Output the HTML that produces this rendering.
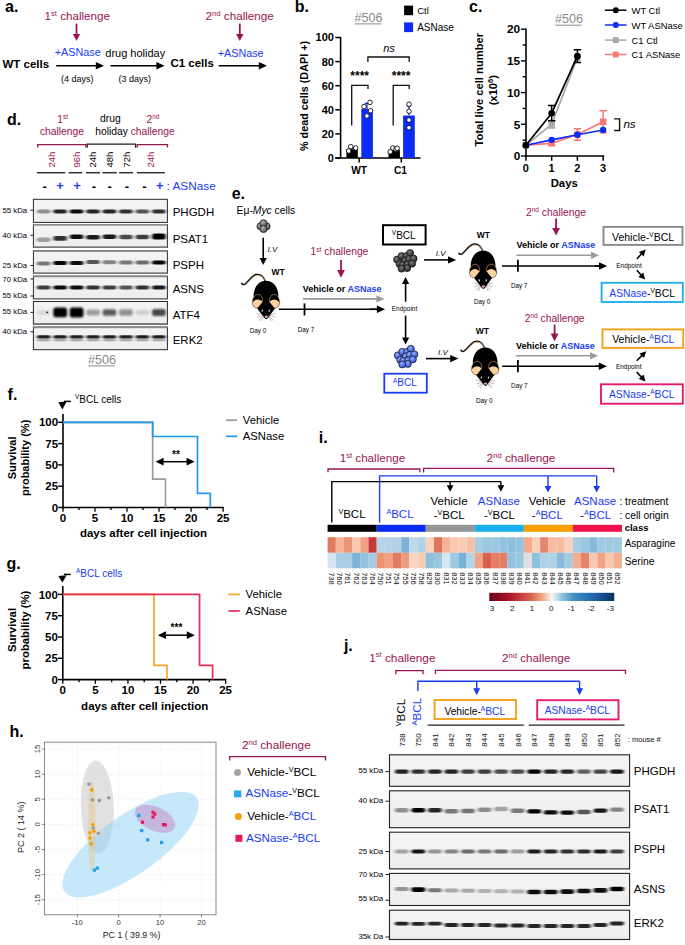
<!DOCTYPE html>
<html><head><meta charset="utf-8"><style>
html,body{margin:0;padding:0;background:#fff;}
svg{display:block;}
text{font-family:'Liberation Sans',sans-serif;}
</style></head><body>
<svg width="685" height="945" viewBox="0 0 685 945">
<defs>
<linearGradient id="blotbg" x1="0" y1="0" x2="0" y2="1"><stop offset="0" stop-color="#f4f4f4"/><stop offset="1" stop-color="#ededed"/></linearGradient>
<filter id="bl1" x="-50%" y="-100%" width="200%" height="300%"><feGaussianBlur stdDeviation="1.4 0.65"/></filter>
<filter id="bl2" x="-50%" y="-100%" width="200%" height="300%"><feGaussianBlur stdDeviation="1.2 1.0"/></filter>
<radialGradient id="gg" cx="0.4" cy="0.35" r="0.7"><stop offset="0" stop-color="#7a7a7a"/><stop offset="1" stop-color="#1e1e1e"/></radialGradient>
<radialGradient id="gl" cx="0.4" cy="0.35" r="0.7"><stop offset="0" stop-color="#b0b0b0"/><stop offset="1" stop-color="#4a4a4a"/></radialGradient>
<radialGradient id="gb" cx="0.4" cy="0.35" r="0.7"><stop offset="0" stop-color="#8fa8ff"/><stop offset="1" stop-color="#2a4ee0"/></radialGradient>
<linearGradient id="rdbu" x1="0" y1="0" x2="1" y2="0">
<stop offset="0" stop-color="#67001f"/><stop offset="0.17" stop-color="#b2182b"/><stop offset="0.33" stop-color="#d6604d"/>
<stop offset="0.42" stop-color="#f4a582"/><stop offset="0.5" stop-color="#f7f7f7"/><stop offset="0.58" stop-color="#92c5de"/>
<stop offset="0.67" stop-color="#4393c3"/><stop offset="0.83" stop-color="#2166ac"/><stop offset="1" stop-color="#053061"/></linearGradient>

<clipPath id="earL"><ellipse cx="-8.6" cy="20.5" rx="4.7" ry="6.5" transform="rotate(12 -8.6 20.5)"/></clipPath>
<clipPath id="earR"><ellipse cx="8.6" cy="20.5" rx="4.7" ry="6.5" transform="rotate(-12 8.6 20.5)"/></clipPath>
<g id="mouse">
 <path d="M-0.5,1 C-2.5,-5.2 -6,-7 -10,-6.2 C-14,-5.3 -17,0.3 -21,3.3 C-22.6,4.3 -23.7,3.6 -24.2,2.6" fill="none" stroke="#111" stroke-width="1.5" stroke-linecap="round"/>
 <path d="M0.2,1.2 C-2,-4.2 -5.6,-5.9 -9.6,-5.2 C-13.4,-4.3 -16.2,0.8 -20,3.6" fill="none" stroke="#d9a577" stroke-width="0.8"/>
 <path d="M0,0 C7.6,0 12.4,6.8 12.4,15.5 C12.4,22 9.5,26.5 6.5,30.5 L1.8,37.2 Q0.3,38.9 -1.2,37.2 L-6.5,30.5 C-9.5,26.5 -12.4,22 -12.4,15.5 C-12.4,6.8 -7.6,0 0,0 Z" fill="#000"/>
 <ellipse cx="-8.6" cy="20.5" rx="5.1" ry="6.9" fill="#000" stroke="#c89a68" stroke-width="0.6" transform="rotate(12 -8.6 20.5)"/>
 <ellipse cx="-8.2" cy="24.0" rx="5.6" ry="5.4" fill="#fbd0a0" clip-path="url(#earL)"/>
 <ellipse cx="8.6" cy="20.5" rx="5.1" ry="6.9" fill="#000" stroke="#c89a68" stroke-width="0.6" transform="rotate(-12 8.6 20.5)"/>
 <ellipse cx="8.2" cy="24.0" rx="5.6" ry="5.4" fill="#fbd0a0" clip-path="url(#earR)"/>
 <path d="M-3.9,21.6 L3.9,21.6 L8.8,27.6 L1.8,37.2 Q0.3,38.9 -1.2,37.2 L-8.8,27.6 Z" fill="#000"/>
 <rect x="-4.4" y="28.8" width="1.2" height="2.1" rx="0.5" fill="#ddd"/>
 <rect x="2.6" y="28.8" width="1.2" height="2.1" rx="0.5" fill="#ddd"/>
 <ellipse cx="0.3" cy="36" rx="1.5" ry="1.2" fill="#f49ac8"/>
 <g stroke="#666" stroke-width="0.45" fill="none">
  <path d="M-3,34 L-9.4,32.6 M-3,34.6 L-9,36.4 M-2.6,35.2 L-7.2,39.8 M-2.2,35.6 L-4.8,40.4"/>
  <path d="M3.4,34 L9.8,32.6 M3.4,34.6 L9.4,36.4 M3,35.2 L7.6,39.8 M2.6,35.6 L5.2,40.4"/>
 </g>
</g>
</defs>
<text x="5" y="12.3" font-size="16" fill="#000" text-anchor="start" style="font-weight:bold;" >a.</text>
<text x="44.6" y="20.4" font-size="11.6" fill="#981552" text-anchor="start" style="" >1<tspan dy="-4" font-size="7.6">st</tspan><tspan dy="4"> challenge</tspan></text>
<line x1="76.5" y1="23.6" x2="76.5" y2="34.6" stroke="#981552" stroke-width="1.8"/>
<path d="M72.8,34.1 L80.2,34.1 L76.5,41.1 Z" fill="#981552"/>
<text x="54.8" y="56.3" font-size="10.8" fill="#1a3cf2" text-anchor="start" style="" >+ASNase</text>
<text x="2.5" y="67.5" font-size="11.5" fill="#000" text-anchor="start" style="font-weight:bold;" >WT cells</text>
<line x1="56.2" y1="65.8" x2="96.3" y2="65.8" stroke="#000" stroke-width="1.6"/>
<path d="M95.8,62.099999999999994 L95.8,69.5 L104,65.8 Z" fill="#000"/>
<text x="77.3" y="82" font-size="9" fill="#000" text-anchor="middle" style="" >(4 days)</text>
<text x="105.3" y="56.5" font-size="11" fill="#000" text-anchor="start" style="" >drug holiday</text>
<line x1="110.5" y1="65.8" x2="156.9" y2="65.8" stroke="#000" stroke-width="1.6"/>
<path d="M156.4,62.099999999999994 L156.4,69.5 L164.6,65.8 Z" fill="#000"/>
<text x="134.8" y="82" font-size="9" fill="#000" text-anchor="middle" style="" >(3 days)</text>
<text x="170.4" y="67.2" font-size="11.5" fill="#000" text-anchor="start" style="font-weight:bold;" >C1 cells</text>
<text x="205.6" y="19.9" font-size="11.7" fill="#981552" text-anchor="start" style="" >2<tspan dy="-4" font-size="7.6">nd</tspan><tspan dy="4"> challenge</tspan></text>
<line x1="239.8" y1="23.6" x2="239.8" y2="34.6" stroke="#981552" stroke-width="1.8"/>
<path d="M236.10000000000002,34.1 L243.5,34.1 L239.8,41.1 Z" fill="#981552"/>
<text x="217.7" y="56.5" font-size="10.8" fill="#1a3cf2" text-anchor="start" style="" >+ASNase</text>
<line x1="218.8" y1="65.8" x2="259.3" y2="65.8" stroke="#000" stroke-width="1.6"/>
<path d="M258.8,62.099999999999994 L258.8,69.5 L267,65.8 Z" fill="#000"/>
<text x="294.8" y="12" font-size="16" fill="#000" text-anchor="start" style="font-weight:bold;" >b.</text>
<text x="354.6" y="21.7" font-size="12.6" fill="#8a8a8a" text-anchor="start" style="" >#506</text>
<line x1="355" y1="23.9" x2="381.5" y2="23.9" stroke="#8a8a8a" stroke-width="1"/>
<rect x="404.1" y="5.6" width="9" height="9.6" fill="#000"/>
<text x="417.2" y="13.9" font-size="9.6" fill="#000" text-anchor="start" style="" >Ctl</text>
<rect x="404.1" y="22.4" width="9" height="9.7" fill="#0b2bf7"/>
<text x="417.2" y="31" font-size="10" fill="#000" text-anchor="start" style="" >ASNase</text>
<line x1="340.6" y1="37.0" x2="340.6" y2="158.8" stroke="#000" stroke-width="1.6"/>
<line x1="335.2" y1="158" x2="420.6" y2="158" stroke="#000" stroke-width="1.6"/>
<line x1="335.3" y1="158.00" x2="340.6" y2="158.00" stroke="#000" stroke-width="1.5"/>
<text x="333.9" y="161.90" font-size="11" fill="#000" text-anchor="end" style="font-weight:bold;" >0</text>
<line x1="335.3" y1="133.90" x2="340.6" y2="133.90" stroke="#000" stroke-width="1.5"/>
<text x="333.9" y="137.80" font-size="11" fill="#000" text-anchor="end" style="font-weight:bold;" >20</text>
<line x1="335.3" y1="109.80" x2="340.6" y2="109.80" stroke="#000" stroke-width="1.5"/>
<text x="333.9" y="113.70" font-size="11" fill="#000" text-anchor="end" style="font-weight:bold;" >40</text>
<line x1="335.3" y1="85.70" x2="340.6" y2="85.70" stroke="#000" stroke-width="1.5"/>
<text x="333.9" y="89.60" font-size="11" fill="#000" text-anchor="end" style="font-weight:bold;" >60</text>
<line x1="335.3" y1="61.60" x2="340.6" y2="61.60" stroke="#000" stroke-width="1.5"/>
<text x="333.9" y="65.50" font-size="11" fill="#000" text-anchor="end" style="font-weight:bold;" >80</text>
<line x1="335.3" y1="37.50" x2="340.6" y2="37.50" stroke="#000" stroke-width="1.5"/>
<text x="333.9" y="41.40" font-size="11" fill="#000" text-anchor="end" style="font-weight:bold;" >100</text>
<line x1="359.2" y1="158" x2="359.2" y2="162.5" stroke="#000" stroke-width="1.5"/>
<line x1="401.3" y1="158" x2="401.3" y2="162.5" stroke="#000" stroke-width="1.5"/>
<text x="359.1" y="173.8" font-size="10.2" fill="#000" text-anchor="middle" style="font-weight:bold;" >WT</text>
<text x="400.5" y="173.8" font-size="10.2" fill="#000" text-anchor="middle" style="font-weight:bold;" >C1</text>
<rect x="346.4" y="149.20" width="11.4" height="8.80" fill="#000"/>
<rect x="361.3" y="108.96" width="11.6" height="49.04" fill="#0b2bf7"/>
<rect x="388.5" y="150.05" width="11.4" height="7.95" fill="#000"/>
<rect x="403.1" y="115.58" width="11.7" height="42.42" fill="#0b2bf7"/>
<path d="M367,108.96 V103.41 M364.7,103.41 H369.3" stroke="#0b2bf7" stroke-width="1.2" fill="none"/>
<path d="M409,115.58 V106.19 M406.7,106.19 H411.3" stroke="#0b2bf7" stroke-width="1.2" fill="none"/>
<path d="M352.1,149.20 V147.52 M349.8,147.52 H354.40000000000003" stroke="#000" stroke-width="1.2" fill="none"/>
<path d="M394.2,150.05 V148.48 M391.9,148.48 H396.5" stroke="#000" stroke-width="1.2" fill="none"/>
<circle cx="348.7" cy="151" r="2.3" fill="#fff" stroke="#111" stroke-width="0.9"/>
<circle cx="350.8" cy="146.6" r="2.3" fill="#fff" stroke="#111" stroke-width="0.9"/>
<circle cx="355.7" cy="148" r="2.3" fill="#fff" stroke="#111" stroke-width="0.9"/>
<circle cx="364" cy="106.6" r="2.3" fill="#fff" stroke="#111" stroke-width="0.9"/>
<circle cx="370" cy="102.4" r="2.3" fill="#fff" stroke="#111" stroke-width="0.9"/>
<circle cx="370.6" cy="110.7" r="2.3" fill="#fff" stroke="#111" stroke-width="0.9"/>
<circle cx="366.9" cy="115.9" r="2.3" fill="#fff" stroke="#111" stroke-width="0.9"/>
<circle cx="390.2" cy="151.8" r="2.3" fill="#fff" stroke="#111" stroke-width="0.9"/>
<circle cx="392.9" cy="148" r="2.3" fill="#fff" stroke="#111" stroke-width="0.9"/>
<circle cx="396" cy="149.2" r="2.3" fill="#fff" stroke="#111" stroke-width="0.9"/>
<circle cx="397.2" cy="148.3" r="2.3" fill="#fff" stroke="#111" stroke-width="0.9"/>
<circle cx="409" cy="104.2" r="2.3" fill="#fff" stroke="#111" stroke-width="0.9"/>
<circle cx="409" cy="111.2" r="2.3" fill="#fff" stroke="#111" stroke-width="0.9"/>
<circle cx="409" cy="120" r="2.3" fill="#fff" stroke="#111" stroke-width="0.9"/>
<circle cx="409" cy="127.7" r="2.3" fill="#fff" stroke="#111" stroke-width="0.9"/>
<path d="M351.7,125.5 V85.3 H368 V88.9" fill="none" stroke="#111" stroke-width="1.3"/>
<path d="M393.2,125.5 V85.3 H409.2 V88.9" fill="none" stroke="#111" stroke-width="1.3"/>
<path d="M367.9,62 V57 H409.2 V62" fill="none" stroke="#111" stroke-width="1.3"/>
<text x="359.7" y="80.2" font-size="12" fill="#000" text-anchor="middle" style="font-weight:bold;" >****</text>
<text x="401.1" y="80.2" font-size="12" fill="#000" text-anchor="middle" style="font-weight:bold;" >****</text>
<text x="389" y="52.4" font-size="11" fill="#000" text-anchor="middle" style="font-style:italic;" >ns</text>
<text transform="translate(308.3,96) rotate(-90)" font-size="10.8" text-anchor="middle" style="font-weight:bold">% dead cells (DAPI +)</text>
<text x="469" y="12.4" font-size="16" fill="#000" text-anchor="start" style="font-weight:bold;" >c.</text>
<text x="554.9" y="22.9" font-size="12.6" fill="#8a8a8a" text-anchor="start" style="" >#506</text>
<line x1="555.3" y1="25.2" x2="581.6" y2="25.2" stroke="#8a8a8a" stroke-width="1"/>
<line x1="526" y1="28.6" x2="526" y2="156.8" stroke="#000" stroke-width="1.6"/>
<line x1="525.2" y1="156" x2="604.2" y2="156" stroke="#000" stroke-width="1.6"/>
<line x1="521" y1="156.00" x2="526" y2="156.00" stroke="#000" stroke-width="1.4"/>
<text x="520.2" y="160.20" font-size="11.8" fill="#000" text-anchor="end" style="font-weight:bold;" >0</text>
<line x1="522.6" y1="140.15" x2="526" y2="140.15" stroke="#000" stroke-width="1.4"/>
<line x1="521" y1="124.30" x2="526" y2="124.30" stroke="#000" stroke-width="1.4"/>
<text x="520.2" y="128.50" font-size="11.8" fill="#000" text-anchor="end" style="font-weight:bold;" >5</text>
<line x1="522.6" y1="108.45" x2="526" y2="108.45" stroke="#000" stroke-width="1.4"/>
<line x1="521" y1="92.60" x2="526" y2="92.60" stroke="#000" stroke-width="1.4"/>
<text x="520.2" y="96.80" font-size="11.8" fill="#000" text-anchor="end" style="font-weight:bold;" >10</text>
<line x1="522.6" y1="76.75" x2="526" y2="76.75" stroke="#000" stroke-width="1.4"/>
<line x1="521" y1="60.90" x2="526" y2="60.90" stroke="#000" stroke-width="1.4"/>
<text x="520.2" y="65.10" font-size="11.8" fill="#000" text-anchor="end" style="font-weight:bold;" >15</text>
<line x1="522.6" y1="45.05" x2="526" y2="45.05" stroke="#000" stroke-width="1.4"/>
<line x1="521" y1="29.20" x2="526" y2="29.20" stroke="#000" stroke-width="1.4"/>
<text x="520.2" y="33.40" font-size="11.8" fill="#000" text-anchor="end" style="font-weight:bold;" >20</text>
<line x1="525.90" y1="156" x2="525.90" y2="160.8" stroke="#000" stroke-width="1.5"/>
<text x="525.90" y="172.2" font-size="11" fill="#000" text-anchor="middle" style="font-weight:bold;" >0</text>
<line x1="551.65" y1="156" x2="551.65" y2="160.8" stroke="#000" stroke-width="1.5"/>
<text x="551.65" y="172.2" font-size="11" fill="#000" text-anchor="middle" style="font-weight:bold;" >1</text>
<line x1="577.40" y1="156" x2="577.40" y2="160.8" stroke="#000" stroke-width="1.5"/>
<text x="577.40" y="172.2" font-size="11" fill="#000" text-anchor="middle" style="font-weight:bold;" >2</text>
<line x1="603.15" y1="156" x2="603.15" y2="160.8" stroke="#000" stroke-width="1.5"/>
<text x="603.15" y="172.2" font-size="11" fill="#000" text-anchor="middle" style="font-weight:bold;" >3</text>
<text x="564.2" y="187.4" font-size="11.3" fill="#000" text-anchor="middle" style="font-weight:bold;" >Days</text>
<text transform="translate(482.6,89.7) rotate(-90)" font-size="11.2" text-anchor="middle" style="font-weight:bold">Total live cell number</text>
<text transform="translate(496.6,90.2) rotate(-90)" font-size="11.2" text-anchor="middle" style="font-weight:bold">(x10<tspan dy="-4" font-size="7.5">6</tspan><tspan dy="4">)</tspan></text>
<polyline points="525.90,145.22 551.65,124.30 577.40,57.73" fill="none" stroke="#a8a8a8" stroke-width="1.7"/>
<path d="M551.65,128.10 V120.50 M547.95,120.50 H555.35 M547.95,128.10 H555.35" stroke="#a8a8a8" stroke-width="1.5" fill="none"/>
<rect x="522.70" y="142.02" width="6.4" height="6.4" fill="#a8a8a8"/>
<rect x="548.45" y="121.10" width="6.4" height="6.4" fill="#a8a8a8"/>
<rect x="574.20" y="54.53" width="6.4" height="6.4" fill="#a8a8a8"/>
<polyline points="525.90,145.22 551.65,143.32 577.40,134.44 603.15,121.76" fill="none" stroke="#fa7878" stroke-width="1.7"/>
<path d="M577.40,140.15 V128.74 M573.70,128.74 H581.10 M573.70,140.15 H581.10" stroke="#fa7878" stroke-width="1.5" fill="none"/>
<path d="M603.15,132.86 V110.67 M599.45,110.67 H606.85 M599.45,132.86 H606.85" stroke="#fa7878" stroke-width="1.5" fill="none"/>
<path d="M551.65,145.22 V141.42 M547.95,141.42 H555.35 M547.95,145.22 H555.35" stroke="#fa7878" stroke-width="1.5" fill="none"/>
<rect x="522.70" y="142.02" width="6.4" height="6.4" fill="#fa7878"/>
<rect x="548.45" y="140.12" width="6.4" height="6.4" fill="#fa7878"/>
<rect x="574.20" y="131.24" width="6.4" height="6.4" fill="#fa7878"/>
<rect x="599.95" y="118.56" width="6.4" height="6.4" fill="#fa7878"/>
<polyline points="525.90,145.22 551.65,139.83 577.40,134.76 603.15,130.01" fill="none" stroke="#0b2bf7" stroke-width="1.7"/>
<circle cx="525.90" cy="145.22" r="3.2" fill="#0b2bf7"/>
<circle cx="551.65" cy="139.83" r="3.2" fill="#0b2bf7"/>
<circle cx="577.40" cy="134.76" r="3.2" fill="#0b2bf7"/>
<circle cx="603.15" cy="130.01" r="3.2" fill="#0b2bf7"/>
<polyline points="525.90,145.22 551.65,113.20 577.40,56.14" fill="none" stroke="#000" stroke-width="1.7"/>
<path d="M551.65,120.81 V105.60 M547.95,105.60 H555.35 M547.95,120.81 H555.35" stroke="#000" stroke-width="1.5" fill="none"/>
<path d="M577.40,62.48 V49.81 M573.70,49.81 H581.10 M573.70,62.48 H581.10" stroke="#000" stroke-width="1.5" fill="none"/>
<circle cx="525.90" cy="145.22" r="3.3" fill="#000"/>
<circle cx="551.65" cy="113.20" r="3.3" fill="#000"/>
<circle cx="577.40" cy="56.14" r="3.3" fill="#000"/>
<path d="M614.1,118.9 H619.6 V130.5 H614.1" fill="none" stroke="#111" stroke-width="1.4"/>
<text x="623.4" y="127.7" font-size="11.6" fill="#000" text-anchor="start" style="font-style:italic;" >ns</text>
<line x1="604.9" y1="10.2" x2="626.5" y2="10.2" stroke="#000" stroke-width="1.5"/>
<circle cx="615.8" cy="10.2" r="3" fill="#000"/>
<text x="631.5" y="13.7" font-size="9.45" fill="#000" text-anchor="start" style="" >WT Ctl</text>
<line x1="604.9" y1="25" x2="626.5" y2="25" stroke="#0b2bf7" stroke-width="1.5"/>
<circle cx="615.8" cy="25" r="3" fill="#0b2bf7"/>
<text x="631.5" y="28.5" font-size="9.45" fill="#000" text-anchor="start" style="" >WT ASNase</text>
<line x1="604.9" y1="40.1" x2="626.5" y2="40.1" stroke="#a8a8a8" stroke-width="1.5"/>
<rect x="612.9" y="37.2" width="5.8" height="5.8" fill="#a8a8a8"/>
<text x="631.5" y="43.6" font-size="9.45" fill="#000" text-anchor="start" style="" >C1 Ctl</text>
<line x1="604.9" y1="54.5" x2="626.5" y2="54.5" stroke="#fa7878" stroke-width="1.5"/>
<rect x="612.9" y="51.6" width="5.8" height="5.8" fill="#fa7878"/>
<text x="631.5" y="58.0" font-size="9.45" fill="#000" text-anchor="start" style="" >C1 ASNase</text>
<text x="7" y="124.6" font-size="16" fill="#000" text-anchor="start" style="font-weight:bold;" >d.</text>
<text x="62.6" y="122.5" font-size="10.3" fill="#981552" text-anchor="middle" style="" >1<tspan dy="-3.6" font-size="6.5">st</tspan><tspan dy="3.6"></tspan></text>
<text x="39.9" y="134.8" font-size="10.3" fill="#981552" text-anchor="start" style="" >challenge</text>
<text x="100" y="122.4" font-size="10.3" fill="#000" text-anchor="start" style="" >drug</text>
<text x="95.3" y="134.6" font-size="10.3" fill="#000" text-anchor="start" style="" >holiday</text>
<text x="153" y="122.5" font-size="10.3" fill="#981552" text-anchor="middle" style="" >2<tspan dy="-3.6" font-size="6.5">nd</tspan><tspan dy="3.6"></tspan></text>
<text x="130.7" y="134.8" font-size="10.3" fill="#981552" text-anchor="start" style="" >challenge</text>
<path d="M37.7,147.6 V144.6 H85.8 V147.6" fill="none" stroke="#981552" stroke-width="1.3"/>
<path d="M87.2,147.7 V144.2 H135.6 V147.7" fill="none" stroke="#222" stroke-width="1.3"/>
<path d="M137.2,147.6 V144.6 H167.5 V147.6" fill="none" stroke="#981552" stroke-width="1.3"/>
<text transform="translate(55.0,159.6) rotate(-90)" font-size="9.5" text-anchor="middle" fill="#981552">24h</text>
<text transform="translate(79.9,159.6) rotate(-90)" font-size="9.5" text-anchor="middle" fill="#981552">96h</text>
<text transform="translate(95.5,159.6) rotate(-90)" font-size="9.5" text-anchor="middle" fill="#000">24h</text>
<text transform="translate(113.0,159.6) rotate(-90)" font-size="9.5" text-anchor="middle" fill="#000">48h</text>
<text transform="translate(129.8,159.6) rotate(-90)" font-size="9.5" text-anchor="middle" fill="#000">72h</text>
<text transform="translate(154.3,159.6) rotate(-90)" font-size="9.5" text-anchor="middle" fill="#981552">24h</text>
<line x1="36.8" y1="172.7" x2="65.2" y2="172.7" stroke="#333" stroke-width="1.5"/>
<line x1="68.7" y1="172.7" x2="82.3" y2="172.7" stroke="#333" stroke-width="1.5"/>
<line x1="86" y1="172.7" x2="100" y2="172.7" stroke="#333" stroke-width="1.5"/>
<line x1="102.5" y1="172.7" x2="116.8" y2="172.7" stroke="#333" stroke-width="1.5"/>
<line x1="119.2" y1="172.7" x2="133.1" y2="172.7" stroke="#333" stroke-width="1.5"/>
<line x1="136.8" y1="172.7" x2="164.8" y2="172.7" stroke="#333" stroke-width="1.5"/>
<text x="44.7" y="190.6" font-size="13" fill="#000" text-anchor="middle" style="font-weight:bold;" >-</text>
<text x="93.9" y="190.6" font-size="13" fill="#000" text-anchor="middle" style="font-weight:bold;" >-</text>
<text x="109.6" y="190.6" font-size="13" fill="#000" text-anchor="middle" style="font-weight:bold;" >-</text>
<text x="127" y="190.6" font-size="13" fill="#000" text-anchor="middle" style="font-weight:bold;" >-</text>
<text x="144.4" y="190.6" font-size="13" fill="#000" text-anchor="middle" style="font-weight:bold;" >-</text>
<text x="60.1" y="190.0" font-size="13" fill="#1a3cf2" text-anchor="middle" style="font-weight:bold;" >+</text>
<text x="77.1" y="190.0" font-size="13" fill="#1a3cf2" text-anchor="middle" style="font-weight:bold;" >+</text>
<text x="159.7" y="190.0" font-size="13" fill="#1a3cf2" text-anchor="middle" style="font-weight:bold;" >+</text>
<text x="166.6" y="189.9" font-size="11.8" fill="#1a3cf2" text-anchor="start" style="" >: ASNase</text>
<rect x="33.4" y="199.3" width="134.0" height="23.099999999999994" fill="url(#blotbg)" stroke="#2a2a2a" stroke-width="1"/>
<rect x="33.4" y="224.5" width="134.0" height="23.0" fill="url(#blotbg)" stroke="#2a2a2a" stroke-width="1"/>
<rect x="33.4" y="224.0" width="134.0" height="1.7" fill="#8c8c8c"/>
<rect x="33.4" y="246.3" width="134.0" height="1.7" fill="#7a7a7a"/>
<rect x="33.4" y="250.7" width="134.0" height="22.80000000000001" fill="url(#blotbg)" stroke="#2a2a2a" stroke-width="1"/>
<rect x="33.4" y="250.2" width="134.0" height="1.7" fill="#8c8c8c"/>
<rect x="33.4" y="272.3" width="134.0" height="1.7" fill="#7a7a7a"/>
<rect x="33.4" y="276.1" width="134.0" height="22.799999999999955" fill="url(#blotbg)" stroke="#2a2a2a" stroke-width="1"/>
<rect x="33.4" y="275.6" width="134.0" height="1.7" fill="#8c8c8c"/>
<rect x="33.4" y="301.5" width="134.0" height="22.80000000000001" fill="url(#blotbg)" stroke="#2a2a2a" stroke-width="1"/>
<rect x="33.4" y="323.1" width="134.0" height="1.7" fill="#7a7a7a"/>
<rect x="33.4" y="327" width="134.0" height="22.69999999999999" fill="url(#blotbg)" stroke="#2a2a2a" stroke-width="1"/>
<rect x="33.4" y="326.5" width="134.0" height="1.7" fill="#8c8c8c"/>
<rect x="36.85" y="209.40" width="13.70" height="4.20" rx="2.10" fill="#000" fill-opacity="0.40" filter="url(#bl1)" transform="rotate(0 43.70 211.50)"/>
<rect x="53.30" y="209.40" width="13.70" height="4.20" rx="2.10" fill="#000" fill-opacity="0.85" filter="url(#bl1)" transform="rotate(0 60.15 211.50)"/>
<rect x="69.75" y="209.40" width="13.70" height="4.20" rx="2.10" fill="#000" fill-opacity="0.95" filter="url(#bl1)" transform="rotate(0 76.60 211.50)"/>
<rect x="86.20" y="209.40" width="13.70" height="4.20" rx="2.10" fill="#000" fill-opacity="0.85" filter="url(#bl1)" transform="rotate(0 93.05 211.50)"/>
<rect x="102.65" y="209.40" width="13.70" height="4.20" rx="2.10" fill="#000" fill-opacity="0.85" filter="url(#bl1)" transform="rotate(0 109.50 211.50)"/>
<rect x="119.10" y="209.40" width="13.70" height="4.20" rx="2.10" fill="#000" fill-opacity="0.80" filter="url(#bl1)" transform="rotate(0 125.95 211.50)"/>
<rect x="135.55" y="209.40" width="13.70" height="4.20" rx="2.10" fill="#000" fill-opacity="0.65" filter="url(#bl1)" transform="rotate(0 142.40 211.50)"/>
<rect x="152.00" y="209.40" width="13.70" height="4.20" rx="2.10" fill="#000" fill-opacity="0.80" filter="url(#bl1)" transform="rotate(0 158.85 211.50)"/>
<rect x="36.85" y="237.40" width="13.70" height="4.60" rx="2.30" fill="#000" fill-opacity="0.35" filter="url(#bl1)" transform="rotate(0 43.70 239.70)"/>
<rect x="53.30" y="236.10" width="13.70" height="4.60" rx="2.30" fill="#000" fill-opacity="0.80" filter="url(#bl1)" transform="rotate(0 60.15 238.40)"/>
<rect x="69.75" y="234.50" width="13.70" height="4.60" rx="2.30" fill="#000" fill-opacity="0.95" filter="url(#bl1)" transform="rotate(0 76.60 236.80)"/>
<rect x="86.20" y="235.00" width="13.70" height="4.60" rx="2.30" fill="#000" fill-opacity="0.90" filter="url(#bl1)" transform="rotate(0 93.05 237.30)"/>
<rect x="102.65" y="234.50" width="13.70" height="4.60" rx="2.30" fill="#000" fill-opacity="0.90" filter="url(#bl1)" transform="rotate(0 109.50 236.80)"/>
<rect x="119.10" y="234.70" width="13.70" height="4.60" rx="2.30" fill="#000" fill-opacity="0.70" filter="url(#bl1)" transform="rotate(0 125.95 237.00)"/>
<rect x="135.55" y="234.70" width="13.70" height="4.60" rx="2.30" fill="#000" fill-opacity="0.75" filter="url(#bl1)" transform="rotate(0 142.40 237.00)"/>
<rect x="152.00" y="233.50" width="13.70" height="6.00" rx="2.50" fill="#000" fill-opacity="1.00" filter="url(#bl1)" transform="rotate(0 158.85 236.50)"/>
<rect x="36.85" y="261.60" width="13.70" height="4.00" rx="2.00" fill="#000" fill-opacity="0.50" filter="url(#bl1)" transform="rotate(0 43.70 263.60)"/>
<rect x="53.30" y="260.90" width="13.70" height="4.00" rx="2.00" fill="#000" fill-opacity="0.98" filter="url(#bl1)" transform="rotate(0 60.15 262.90)"/>
<rect x="69.75" y="260.90" width="13.70" height="4.00" rx="2.00" fill="#000" fill-opacity="0.95" filter="url(#bl1)" transform="rotate(0 76.60 262.90)"/>
<rect x="86.20" y="260.00" width="13.70" height="4.00" rx="2.00" fill="#000" fill-opacity="0.65" filter="url(#bl1)" transform="rotate(0 93.05 262.00)"/>
<rect x="102.65" y="260.20" width="13.70" height="4.00" rx="2.00" fill="#000" fill-opacity="0.45" filter="url(#bl1)" transform="rotate(0 109.50 262.20)"/>
<rect x="119.10" y="260.60" width="13.70" height="4.00" rx="2.00" fill="#000" fill-opacity="0.50" filter="url(#bl1)" transform="rotate(0 125.95 262.60)"/>
<rect x="135.55" y="260.60" width="13.70" height="4.00" rx="2.00" fill="#000" fill-opacity="0.55" filter="url(#bl1)" transform="rotate(0 142.40 262.60)"/>
<rect x="152.00" y="260.60" width="13.70" height="4.00" rx="2.00" fill="#000" fill-opacity="0.98" filter="url(#bl1)" transform="rotate(0 158.85 262.60)"/>
<rect x="36.85" y="285.60" width="13.70" height="4.00" rx="2.00" fill="#000" fill-opacity="0.75" filter="url(#bl1)" transform="rotate(0 43.70 287.60)"/>
<rect x="53.30" y="285.60" width="13.70" height="4.00" rx="2.00" fill="#000" fill-opacity="0.95" filter="url(#bl1)" transform="rotate(0 60.15 287.60)"/>
<rect x="69.75" y="285.60" width="13.70" height="4.00" rx="2.00" fill="#000" fill-opacity="0.95" filter="url(#bl1)" transform="rotate(0 76.60 287.60)"/>
<rect x="86.20" y="285.60" width="13.70" height="4.00" rx="2.00" fill="#000" fill-opacity="0.80" filter="url(#bl1)" transform="rotate(0 93.05 287.60)"/>
<rect x="102.65" y="285.60" width="13.70" height="4.00" rx="2.00" fill="#000" fill-opacity="0.75" filter="url(#bl1)" transform="rotate(0 109.50 287.60)"/>
<rect x="119.10" y="285.60" width="13.70" height="4.00" rx="2.00" fill="#000" fill-opacity="0.65" filter="url(#bl1)" transform="rotate(0 125.95 287.60)"/>
<rect x="135.55" y="285.60" width="13.70" height="4.00" rx="2.00" fill="#000" fill-opacity="0.80" filter="url(#bl1)" transform="rotate(0 142.40 287.60)"/>
<rect x="152.00" y="285.60" width="13.70" height="4.00" rx="2.00" fill="#000" fill-opacity="0.90" filter="url(#bl1)" transform="rotate(0 158.85 287.60)"/>
<rect x="36.85" y="309.90" width="13.70" height="5.00" rx="2.50" fill="#000" fill-opacity="0.10" filter="url(#bl2)" transform="rotate(0 43.70 312.40)"/>
<rect x="53.30" y="307.60" width="13.70" height="9.60" rx="2.50" fill="#000" fill-opacity="1.00" filter="url(#bl2)" transform="rotate(0 60.15 312.40)"/>
<rect x="69.75" y="307.40" width="13.70" height="10.00" rx="2.50" fill="#000" fill-opacity="1.00" filter="url(#bl2)" transform="rotate(0 76.60 312.40)"/>
<rect x="86.20" y="309.40" width="13.70" height="6.00" rx="2.50" fill="#000" fill-opacity="0.35" filter="url(#bl2)" transform="rotate(0 93.05 312.40)"/>
<rect x="102.65" y="309.15" width="13.70" height="6.50" rx="2.50" fill="#000" fill-opacity="0.62" filter="url(#bl2)" transform="rotate(0 109.50 312.40)"/>
<rect x="119.10" y="309.15" width="13.70" height="6.50" rx="2.50" fill="#000" fill-opacity="0.40" filter="url(#bl2)" transform="rotate(0 125.95 312.40)"/>
<rect x="135.55" y="309.90" width="13.70" height="5.00" rx="2.50" fill="#000" fill-opacity="0.14" filter="url(#bl2)" transform="rotate(0 142.40 312.40)"/>
<rect x="152.00" y="308.90" width="13.70" height="7.00" rx="2.50" fill="#000" fill-opacity="0.70" filter="url(#bl2)" transform="rotate(0 158.85 312.40)"/>
<circle cx="47.2" cy="312.3" r="0.9" fill="#222"/>
<rect x="36.85" y="335.30" width="13.70" height="3.20" rx="1.60" fill="#000" fill-opacity="0.88" filter="url(#bl1)" transform="rotate(0 43.70 336.90)"/>
<rect x="37.10" y="339.10" width="13.20" height="2.20" rx="1.10" fill="#000" fill-opacity="0.30" filter="url(#bl1)" transform="rotate(0 43.70 340.20)"/>
<rect x="53.30" y="335.30" width="13.70" height="3.20" rx="1.60" fill="#000" fill-opacity="0.88" filter="url(#bl1)" transform="rotate(0 60.15 336.90)"/>
<rect x="53.55" y="339.10" width="13.20" height="2.20" rx="1.10" fill="#000" fill-opacity="0.30" filter="url(#bl1)" transform="rotate(0 60.15 340.20)"/>
<rect x="69.75" y="335.30" width="13.70" height="3.20" rx="1.60" fill="#000" fill-opacity="0.88" filter="url(#bl1)" transform="rotate(0 76.60 336.90)"/>
<rect x="70.00" y="339.10" width="13.20" height="2.20" rx="1.10" fill="#000" fill-opacity="0.30" filter="url(#bl1)" transform="rotate(0 76.60 340.20)"/>
<rect x="86.20" y="335.30" width="13.70" height="3.20" rx="1.60" fill="#000" fill-opacity="0.88" filter="url(#bl1)" transform="rotate(0 93.05 336.90)"/>
<rect x="86.45" y="339.10" width="13.20" height="2.20" rx="1.10" fill="#000" fill-opacity="0.30" filter="url(#bl1)" transform="rotate(0 93.05 340.20)"/>
<rect x="102.65" y="335.30" width="13.70" height="3.20" rx="1.60" fill="#000" fill-opacity="0.88" filter="url(#bl1)" transform="rotate(0 109.50 336.90)"/>
<rect x="102.90" y="339.10" width="13.20" height="2.20" rx="1.10" fill="#000" fill-opacity="0.30" filter="url(#bl1)" transform="rotate(0 109.50 340.20)"/>
<rect x="119.10" y="335.30" width="13.70" height="3.20" rx="1.60" fill="#000" fill-opacity="0.88" filter="url(#bl1)" transform="rotate(0 125.95 336.90)"/>
<rect x="119.35" y="339.10" width="13.20" height="2.20" rx="1.10" fill="#000" fill-opacity="0.30" filter="url(#bl1)" transform="rotate(0 125.95 340.20)"/>
<rect x="135.55" y="335.30" width="13.70" height="3.20" rx="1.60" fill="#000" fill-opacity="0.88" filter="url(#bl1)" transform="rotate(0 142.40 336.90)"/>
<rect x="135.80" y="339.10" width="13.20" height="2.20" rx="1.10" fill="#000" fill-opacity="0.30" filter="url(#bl1)" transform="rotate(0 142.40 340.20)"/>
<rect x="152.00" y="335.30" width="13.70" height="3.20" rx="1.60" fill="#000" fill-opacity="0.88" filter="url(#bl1)" transform="rotate(0 158.85 336.90)"/>
<rect x="152.25" y="339.10" width="13.20" height="2.20" rx="1.10" fill="#000" fill-opacity="0.30" filter="url(#bl1)" transform="rotate(0 158.85 340.20)"/>
<text x="172.7" y="216" font-size="11.5" fill="#000" text-anchor="start" style="" >PHGDH</text>
<text x="172.7" y="242.8" font-size="11.5" fill="#000" text-anchor="start" style="" >PSAT1</text>
<text x="172.7" y="268.7" font-size="11.5" fill="#000" text-anchor="start" style="" >PSPH</text>
<text x="172.7" y="293.4" font-size="11.5" fill="#000" text-anchor="start" style="" >ASNS</text>
<text x="172.7" y="318.8" font-size="11.5" fill="#000" text-anchor="start" style="" >ATF4</text>
<text x="172.7" y="344.1" font-size="11.5" fill="#000" text-anchor="start" style="" >ERK2</text>
<text x="2.4" y="212.8" font-size="7.8" fill="#000" text-anchor="start" style="" >55 kDa</text>
<line x1="30.5" y1="210.2" x2="33.4" y2="210.2" stroke="#222" stroke-width="1"/>
<text x="2.4" y="238.2" font-size="7.8" fill="#000" text-anchor="start" style="" >40 kDa</text>
<line x1="30.5" y1="235.3" x2="33.4" y2="235.3" stroke="#222" stroke-width="1"/>
<text x="2.4" y="267.8" font-size="7.8" fill="#000" text-anchor="start" style="" >25 kDa</text>
<line x1="30.5" y1="265.5" x2="33.4" y2="265.5" stroke="#222" stroke-width="1"/>
<text x="2.4" y="282.1" font-size="7.8" fill="#000" text-anchor="start" style="" >70 kDa</text>
<line x1="30.5" y1="279" x2="33.4" y2="279" stroke="#222" stroke-width="1"/>
<text x="2.4" y="297.7" font-size="7.8" fill="#000" text-anchor="start" style="" >55 kDa</text>
<line x1="30.5" y1="296" x2="33.4" y2="296" stroke="#222" stroke-width="1"/>
<text x="2.4" y="314" font-size="7.8" fill="#000" text-anchor="start" style="" >55 kDa</text>
<line x1="30.5" y1="312.4" x2="33.4" y2="312.4" stroke="#222" stroke-width="1"/>
<text x="2.4" y="333.8" font-size="7.8" fill="#000" text-anchor="start" style="" >40 kDa</text>
<line x1="30.5" y1="331.8" x2="33.4" y2="331.8" stroke="#222" stroke-width="1"/>
<text x="88.1" y="363.7" font-size="12.6" fill="#8a8a8a" text-anchor="start" style="" >#506</text>
<line x1="88.5" y1="365.9" x2="114.8" y2="365.9" stroke="#8a8a8a" stroke-width="1"/>
<text x="231.7" y="199.3" font-size="16" fill="#000" text-anchor="start" style="font-weight:bold;" >e.</text>
<text x="236.6" y="214.2" font-size="10.3" fill="#000" text-anchor="start" style="" >Eμ-<tspan style="font-style:italic">Myc</tspan> cells</text>
<circle cx="260.50" cy="226.30" r="3.6" fill="url(#gl)" stroke="#111" stroke-width="0.7"/>
<circle cx="266.50" cy="226.30" r="3.6" fill="url(#gl)" stroke="#111" stroke-width="0.7"/>
<circle cx="263.50" cy="223.30" r="3.6" fill="url(#gl)" stroke="#111" stroke-width="0.7"/>
<circle cx="263.50" cy="229.00" r="3.6" fill="url(#gl)" stroke="#111" stroke-width="0.7"/>
<line x1="263.2" y1="237.8" x2="263.2" y2="258.6" stroke="#000" stroke-width="1.6"/>
<path d="M259.59999999999997,258.1 L266.8,258.1 L263.2,265.1 Z" fill="#000"/>
<text x="267.6" y="252" font-size="8" fill="#000" text-anchor="start" style="font-style:italic;" >I.V</text>
<text x="271.6" y="274.7" font-size="8.5" fill="#000" text-anchor="start" style="font-weight:bold;" >WT</text>
<use href="#mouse" transform="translate(266,280.8)"/>
<text x="249.8" y="332.8" font-size="6.3" fill="#000" text-anchor="start" style="" >Day 0</text>
<line x1="278.9" y1="309.3" x2="379" y2="309.3" stroke="#000" stroke-width="1.6"/>
<line x1="370" y1="309.3" x2="377.40000000000003" y2="309.3" stroke="#000" stroke-width="1.6"/>
<path d="M376.90000000000003,305.6 L376.90000000000003,313.0 L385.1,309.3 Z" fill="#000"/>
<line x1="304.5" y1="303.4" x2="304.5" y2="315.5" stroke="#000" stroke-width="1.8"/>
<text x="297.7" y="331.6" font-size="6.3" fill="#000" text-anchor="start" style="" >Day 7</text>
<text x="310.6" y="255.3" font-size="10.3" fill="#981552" text-anchor="start" style="" >1<tspan dy="-3.6" font-size="6.5">st</tspan><tspan dy="3.6"> challenge</tspan></text>
<line x1="341" y1="260" x2="341" y2="270.59999999999997" stroke="#981552" stroke-width="1.8"/>
<path d="M337.1,270.09999999999997 L344.9,270.09999999999997 L341,277.7 Z" fill="#981552"/>
<text x="302.8" y="291.7" font-size="9" fill="#000" text-anchor="start" style="font-weight:bold;" >Vehicle or <tspan fill="#1a3cf2">ASNase</tspan></text>
<line x1="302.8" y1="298.9" x2="376.9" y2="298.9" stroke="#9a9a9a" stroke-width="1.6"/>
<path d="M376.4,295.29999999999995 L376.4,302.5 L384.4,298.9 Z" fill="#9a9a9a"/>
<text x="391.8" y="311.2" font-size="6.45" fill="#000" text-anchor="start" style="" >Endpoint</text>
<line x1="405.6" y1="301.8" x2="405.6" y2="283.5" stroke="#000" stroke-width="1.6"/>
<path d="M402.0,284 L409.20000000000005,284 L405.6,277 Z" fill="#000"/>
<line x1="405.6" y1="315.6" x2="405.6" y2="338.0" stroke="#000" stroke-width="1.6"/>
<path d="M402.0,337.5 L409.20000000000005,337.5 L405.6,344.5 Z" fill="#000"/>
<rect x="383" y="225.2" width="42.6" height="19.3" fill="none" stroke="#000" stroke-width="2"/>
<text x="391.8" y="238.9" font-size="10" fill="#000" text-anchor="start" style="" ><tspan dy="-3.6" font-size="6.5">V</tspan><tspan dy="3.6">BCL</tspan></text>
<circle cx="397.10" cy="259.60" r="3.55" fill="url(#gg)" stroke="#111" stroke-width="0.7"/>
<circle cx="399.60" cy="264.10" r="3.55" fill="url(#gg)" stroke="#111" stroke-width="0.7"/>
<circle cx="401.60" cy="256.10" r="3.55" fill="url(#gg)" stroke="#111" stroke-width="0.7"/>
<circle cx="406.60" cy="256.10" r="3.55" fill="url(#gg)" stroke="#111" stroke-width="0.7"/>
<circle cx="410.10" cy="253.10" r="3.55" fill="url(#gg)" stroke="#111" stroke-width="0.7"/>
<circle cx="405.10" cy="260.60" r="3.55" fill="url(#gg)" stroke="#111" stroke-width="0.7"/>
<circle cx="409.10" cy="259.10" r="3.55" fill="url(#gg)" stroke="#111" stroke-width="0.7"/>
<circle cx="413.60" cy="258.60" r="3.55" fill="url(#gg)" stroke="#111" stroke-width="0.7"/>
<circle cx="402.60" cy="265.10" r="3.55" fill="url(#gg)" stroke="#111" stroke-width="0.7"/>
<circle cx="407.60" cy="264.60" r="3.55" fill="url(#gg)" stroke="#111" stroke-width="0.7"/>
<circle cx="412.10" cy="263.60" r="3.55" fill="url(#gg)" stroke="#111" stroke-width="0.7"/>
<circle cx="407.10" cy="268.10" r="3.55" fill="url(#gg)" stroke="#111" stroke-width="0.7"/>
<circle cx="401.60" cy="268.60" r="3.55" fill="url(#gg)" stroke="#111" stroke-width="0.7"/>
<line x1="424" y1="259.9" x2="448.5" y2="259.9" stroke="#000" stroke-width="1.6"/>
<path d="M448.0,256.2 L448.0,263.59999999999997 L456.2,259.9 Z" fill="#000"/>
<text x="440.7" y="256.2" font-size="8" fill="#000" text-anchor="middle" style="font-style:italic;" >I.V</text>
<circle cx="397.80" cy="355.40" r="3.55" fill="url(#gb)" stroke="#111" stroke-width="0.7"/>
<circle cx="400.30" cy="359.90" r="3.55" fill="url(#gb)" stroke="#111" stroke-width="0.7"/>
<circle cx="402.30" cy="351.90" r="3.55" fill="url(#gb)" stroke="#111" stroke-width="0.7"/>
<circle cx="407.30" cy="351.90" r="3.55" fill="url(#gb)" stroke="#111" stroke-width="0.7"/>
<circle cx="410.80" cy="348.90" r="3.55" fill="url(#gb)" stroke="#111" stroke-width="0.7"/>
<circle cx="405.80" cy="356.40" r="3.55" fill="url(#gb)" stroke="#111" stroke-width="0.7"/>
<circle cx="409.80" cy="354.90" r="3.55" fill="url(#gb)" stroke="#111" stroke-width="0.7"/>
<circle cx="414.30" cy="354.40" r="3.55" fill="url(#gb)" stroke="#111" stroke-width="0.7"/>
<circle cx="403.30" cy="360.90" r="3.55" fill="url(#gb)" stroke="#111" stroke-width="0.7"/>
<circle cx="408.30" cy="360.40" r="3.55" fill="url(#gb)" stroke="#111" stroke-width="0.7"/>
<circle cx="412.80" cy="359.40" r="3.55" fill="url(#gb)" stroke="#111" stroke-width="0.7"/>
<circle cx="407.80" cy="363.90" r="3.55" fill="url(#gb)" stroke="#111" stroke-width="0.7"/>
<circle cx="402.30" cy="364.40" r="3.55" fill="url(#gb)" stroke="#111" stroke-width="0.7"/>
<line x1="426" y1="358.6" x2="450.7" y2="358.6" stroke="#000" stroke-width="1.6"/>
<path d="M450.2,354.90000000000003 L450.2,362.3 L458.4,358.6 Z" fill="#000"/>
<text x="443" y="354.6" font-size="8" fill="#000" text-anchor="middle" style="font-style:italic;" >I.V</text>
<rect x="384.3" y="373.7" width="42.5" height="19" fill="none" stroke="#1a3cf2" stroke-width="1.8"/>
<text x="393" y="386.3" font-size="10" fill="#1a3cf2" text-anchor="start" style="" ><tspan dy="-3.6" font-size="6.5">A</tspan><tspan dy="3.6">BCL</tspan></text>
<use href="#mouse" transform="translate(483.1,250.5)"/>
<text x="476.7" y="237.6" font-size="8.5" fill="#000" text-anchor="start" style="font-weight:bold;" >WT</text>
<text x="473.9" y="304.3" font-size="6.3" fill="#000" text-anchor="start" style="" >Day 0</text>
<line x1="502" y1="266" x2="600" y2="266" stroke="#000" stroke-width="1.6"/>
<line x1="595" y1="266" x2="599.5" y2="266" stroke="#000" stroke-width="1.6"/>
<path d="M599.0,262.3 L599.0,269.7 L607.2,266 Z" fill="#000"/>
<line x1="517.9" y1="259.8" x2="517.9" y2="271.7" stroke="#000" stroke-width="1.8"/>
<text x="510.9" y="288.4" font-size="6.3" fill="#000" text-anchor="start" style="" >Day 7</text>
<text x="526" y="215.7" font-size="10.3" fill="#981552" text-anchor="start" style="" >2<tspan dy="-3.6" font-size="6.5">nd</tspan><tspan dy="3.6"> challenge</tspan></text>
<line x1="556.1" y1="218.5" x2="556.1" y2="228.5" stroke="#981552" stroke-width="1.8"/>
<path d="M552.2,228.0 L560.0,228.0 L556.1,235.6 Z" fill="#981552"/>
<text x="516.6" y="248.4" font-size="9" fill="#000" text-anchor="start" style="font-weight:bold;" >Vehicle or <tspan fill="#1a3cf2">ASNase</tspan></text>
<line x1="516.5" y1="255.3" x2="591.5" y2="255.3" stroke="#9a9a9a" stroke-width="1.6"/>
<path d="M591,251.70000000000002 L591,258.90000000000003 L599,255.3 Z" fill="#9a9a9a"/>
<text x="616.3" y="268.0" font-size="6.45" fill="#000" text-anchor="start" style="" >Endpoint</text>
<line x1="636.8" y1="259" x2="641.62" y2="253.80" stroke="#000" stroke-width="1.6"/>
<path d="M643.70,256.41 L638.86,251.92 L645.7,249.4 Z" fill="#000"/>
<line x1="636.8" y1="270.3" x2="641.15" y2="275.07" stroke="#000" stroke-width="1.6"/>
<path d="M638.38,276.92 L643.25,272.47 L645.2,279.5 Z" fill="#000"/>
<rect x="603.5" y="226.9" width="79" height="18" fill="none" stroke="#8a8a8a" stroke-width="1.9"/>
<text x="612" y="241" font-size="10.5" fill="#000" text-anchor="start" style="" >Vehicle-<tspan dy="-3.6" font-size="6.5">V</tspan><tspan dy="3.6">BCL</tspan></text>
<rect x="601.6" y="282.8" width="81.2" height="19.2" fill="none" stroke="#22b0ec" stroke-width="1.9"/>
<text x="609.3" y="296.7" font-size="10.3" fill="#000" text-anchor="start" style="" ><tspan fill="#1a3cf2">ASNase</tspan>-<tspan dy="-3.6" font-size="6.5">V</tspan><tspan dy="3.6">BCL</tspan></text>
<use href="#mouse" transform="translate(485.2,347.6)"/>
<text x="475.8" y="333.8" font-size="8.5" fill="#000" text-anchor="start" style="font-weight:bold;" >WT</text>
<text x="476" y="402.7" font-size="6.3" fill="#000" text-anchor="start" style="" >Day 0</text>
<line x1="502.2" y1="366.2" x2="600" y2="366.2" stroke="#000" stroke-width="1.6"/>
<line x1="595" y1="366.2" x2="599.3" y2="366.2" stroke="#000" stroke-width="1.6"/>
<path d="M598.8,362.5 L598.8,369.9 L607,366.2 Z" fill="#000"/>
<line x1="517.9" y1="360" x2="517.9" y2="372.2" stroke="#000" stroke-width="1.8"/>
<text x="511.1" y="388.4" font-size="6.3" fill="#000" text-anchor="start" style="" >Day 7</text>
<text x="524.7" y="321.8" font-size="10.3" fill="#981552" text-anchor="start" style="" >2<tspan dy="-3.6" font-size="6.5">nd</tspan><tspan dy="3.6"> challenge</tspan></text>
<line x1="554.6" y1="324.5" x2="554.6" y2="334.09999999999997" stroke="#981552" stroke-width="1.8"/>
<path d="M550.7,333.59999999999997 L558.5,333.59999999999997 L554.6,341.2 Z" fill="#981552"/>
<text x="516.1" y="348.5" font-size="9" fill="#000" text-anchor="start" style="font-weight:bold;" >Vehicle or <tspan fill="#1a3cf2">ASNase</tspan></text>
<line x1="516" y1="355.8" x2="590.5" y2="355.8" stroke="#9a9a9a" stroke-width="1.6"/>
<path d="M590,352.2 L590,359.40000000000003 L598,355.8 Z" fill="#9a9a9a"/>
<text x="616" y="368.8" font-size="6.45" fill="#000" text-anchor="start" style="" >Endpoint</text>
<line x1="636.7" y1="360.7" x2="642.04" y2="355.42" stroke="#000" stroke-width="1.6"/>
<path d="M644.00,358.12 L639.36,353.43 L646.3,351.2 Z" fill="#000"/>
<line x1="636.7" y1="372" x2="641.50" y2="377.12" stroke="#000" stroke-width="1.6"/>
<path d="M638.75,379.01 L643.56,374.50 L645.6,381.5 Z" fill="#000"/>
<rect x="602.5" y="329.4" width="80.7" height="18.5" fill="none" stroke="#f7a11a" stroke-width="1.9"/>
<text x="612.2" y="342.9" font-size="10.5" fill="#000" text-anchor="start" style="" >Vehicle-<tspan fill="#1a3cf2"><tspan dy="-3.6" font-size="6.5">A</tspan><tspan dy="3.6">BCL</tspan></tspan></text>
<rect x="601" y="384.3" width="81.8" height="19.4" fill="none" stroke="#e8196c" stroke-width="1.9"/>
<text x="609" y="397.8" font-size="10.3" fill="#1a3cf2" text-anchor="start" style="" >ASNase-<tspan dy="-3.6" font-size="6.5">A</tspan><tspan dy="3.6">BCL</tspan></text>
<text x="7.6" y="400.2" font-size="16" fill="#000" text-anchor="start" style="font-weight:bold;" >f.</text>
<line x1="63" y1="413.9" x2="63" y2="508.3" stroke="#000" stroke-width="1.6"/>
<line x1="62.2" y1="507.5" x2="223.70" y2="507.5" stroke="#000" stroke-width="1.6"/>
<line x1="58.2" y1="507.50" x2="63" y2="507.50" stroke="#000" stroke-width="1.4"/>
<text x="58.1" y="511.60" font-size="11.5" fill="#000" text-anchor="end" style="font-weight:bold;" >0</text>
<line x1="58.2" y1="486.20" x2="63" y2="486.20" stroke="#000" stroke-width="1.4"/>
<text x="58.1" y="490.30" font-size="11.5" fill="#000" text-anchor="end" style="font-weight:bold;" >25</text>
<line x1="58.2" y1="464.90" x2="63" y2="464.90" stroke="#000" stroke-width="1.4"/>
<text x="58.1" y="469.00" font-size="11.5" fill="#000" text-anchor="end" style="font-weight:bold;" >50</text>
<line x1="58.2" y1="443.60" x2="63" y2="443.60" stroke="#000" stroke-width="1.4"/>
<text x="58.1" y="447.70" font-size="11.5" fill="#000" text-anchor="end" style="font-weight:bold;" >75</text>
<line x1="58.2" y1="422.30" x2="63" y2="422.30" stroke="#000" stroke-width="1.4"/>
<text x="58.1" y="426.40" font-size="11.5" fill="#000" text-anchor="end" style="font-weight:bold;" >100</text>
<line x1="63.00" y1="507.5" x2="63.00" y2="511.7" stroke="#000" stroke-width="1.3"/>
<text x="63.00" y="521.90" font-size="11.5" fill="#000" text-anchor="middle" style="font-weight:bold;" >0</text>
<line x1="79.01" y1="507.5" x2="79.01" y2="510.1" stroke="#000" stroke-width="1.3"/>
<line x1="95.02" y1="507.5" x2="95.02" y2="511.7" stroke="#000" stroke-width="1.3"/>
<text x="95.02" y="521.90" font-size="11.5" fill="#000" text-anchor="middle" style="font-weight:bold;" >5</text>
<line x1="111.03" y1="507.5" x2="111.03" y2="510.1" stroke="#000" stroke-width="1.3"/>
<line x1="127.04" y1="507.5" x2="127.04" y2="511.7" stroke="#000" stroke-width="1.3"/>
<text x="127.04" y="521.90" font-size="11.5" fill="#000" text-anchor="middle" style="font-weight:bold;" >10</text>
<line x1="143.05" y1="507.5" x2="143.05" y2="510.1" stroke="#000" stroke-width="1.3"/>
<line x1="159.06" y1="507.5" x2="159.06" y2="511.7" stroke="#000" stroke-width="1.3"/>
<text x="159.06" y="521.90" font-size="11.5" fill="#000" text-anchor="middle" style="font-weight:bold;" >15</text>
<line x1="175.07" y1="507.5" x2="175.07" y2="510.1" stroke="#000" stroke-width="1.3"/>
<line x1="191.08" y1="507.5" x2="191.08" y2="511.7" stroke="#000" stroke-width="1.3"/>
<text x="191.08" y="521.90" font-size="11.5" fill="#000" text-anchor="middle" style="font-weight:bold;" >20</text>
<line x1="207.09" y1="507.5" x2="207.09" y2="510.1" stroke="#000" stroke-width="1.3"/>
<line x1="223.10" y1="507.5" x2="223.10" y2="511.7" stroke="#000" stroke-width="1.3"/>
<text x="223.10" y="521.90" font-size="11.5" fill="#000" text-anchor="middle" style="font-weight:bold;" >25</text>
<text x="143.55" y="537.2" font-size="11.5" fill="#000" text-anchor="middle" style="font-weight:bold;" >days after cell injection</text>
<text transform="translate(16.1,457.9) rotate(-90)" font-size="11" text-anchor="middle" style="font-weight:bold">Survival</text>
<text transform="translate(28.6,457.9) rotate(-90)" font-size="11" text-anchor="middle" style="font-weight:bold">probability (%)</text>
<path d="M63.00,422.30 L152.66,422.30 L152.66,479.10 L165.46,479.10 L165.46,507.50" fill="none" stroke="#9b9b9b" stroke-width="1.7"/>
<path d="M63.00,422.30 L152.66,422.30 L152.66,436.50 L197.48,436.50 L197.48,493.30 L210.29,493.30 L210.29,507.50" fill="none" stroke="#1f98ee" stroke-width="1.7"/>
<line x1="160.6" y1="461.7" x2="189.6" y2="461.7" stroke="#000" stroke-width="1.5"/>
<path d="M155.6,461.7 L163.6,457.8 L163.6,465.59999999999997 Z M194.6,461.7 L186.6,457.8 L186.6,465.59999999999997 Z" fill="#000"/>
<text x="175.9" y="458.3" font-size="10.2" fill="#000" text-anchor="middle" style="font-weight:bold;" >**</text>
<line x1="64" y1="401.4" x2="70.8" y2="401.4" stroke="#000" stroke-width="1.5"/>
<path d="M58.3,402.3 L66.6,401.5 L62.4,409.4 Z" fill="#000"/>
<text x="75.0" y="402.8" font-size="10" fill="#000" text-anchor="start" style="" ><tspan dy="-3.6" font-size="6.4">V</tspan><tspan dy="3.6">BCL cells</tspan></text>
<line x1="226.1" y1="420.2" x2="237.2" y2="420.2" stroke="#9b9b9b" stroke-width="1.7"/>
<text x="242.8" y="423.7" font-size="11.3" fill="#000" text-anchor="start" style="" >Vehicle</text>
<line x1="226.1" y1="436.3" x2="237.2" y2="436.3" stroke="#1f98ee" stroke-width="1.7"/>
<text x="242.8" y="439.8" font-size="11.3" fill="#000" text-anchor="start" style="" >ASNase</text>
<text x="6.6" y="569.2" font-size="16" fill="#000" text-anchor="start" style="font-weight:bold;" >g.</text>
<line x1="62.8" y1="586.0" x2="62.8" y2="680.4" stroke="#000" stroke-width="1.6"/>
<line x1="62.0" y1="679.6" x2="226.22" y2="679.6" stroke="#000" stroke-width="1.6"/>
<line x1="58.0" y1="679.60" x2="62.8" y2="679.60" stroke="#000" stroke-width="1.4"/>
<text x="57.9" y="683.70" font-size="11.5" fill="#000" text-anchor="end" style="font-weight:bold;" >0</text>
<line x1="58.0" y1="658.30" x2="62.8" y2="658.30" stroke="#000" stroke-width="1.4"/>
<text x="57.9" y="662.40" font-size="11.5" fill="#000" text-anchor="end" style="font-weight:bold;" >25</text>
<line x1="58.0" y1="637.00" x2="62.8" y2="637.00" stroke="#000" stroke-width="1.4"/>
<text x="57.9" y="641.10" font-size="11.5" fill="#000" text-anchor="end" style="font-weight:bold;" >50</text>
<line x1="58.0" y1="615.70" x2="62.8" y2="615.70" stroke="#000" stroke-width="1.4"/>
<text x="57.9" y="619.80" font-size="11.5" fill="#000" text-anchor="end" style="font-weight:bold;" >75</text>
<line x1="58.0" y1="594.40" x2="62.8" y2="594.40" stroke="#000" stroke-width="1.4"/>
<text x="57.9" y="598.50" font-size="11.5" fill="#000" text-anchor="end" style="font-weight:bold;" >100</text>
<line x1="62.80" y1="679.6" x2="62.80" y2="683.8000000000001" stroke="#000" stroke-width="1.3"/>
<text x="62.80" y="694.00" font-size="11.5" fill="#000" text-anchor="middle" style="font-weight:bold;" >0</text>
<line x1="79.08" y1="679.6" x2="79.08" y2="682.2" stroke="#000" stroke-width="1.3"/>
<line x1="95.36" y1="679.6" x2="95.36" y2="683.8000000000001" stroke="#000" stroke-width="1.3"/>
<text x="95.36" y="694.00" font-size="11.5" fill="#000" text-anchor="middle" style="font-weight:bold;" >5</text>
<line x1="111.65" y1="679.6" x2="111.65" y2="682.2" stroke="#000" stroke-width="1.3"/>
<line x1="127.93" y1="679.6" x2="127.93" y2="683.8000000000001" stroke="#000" stroke-width="1.3"/>
<text x="127.93" y="694.00" font-size="11.5" fill="#000" text-anchor="middle" style="font-weight:bold;" >10</text>
<line x1="144.21" y1="679.6" x2="144.21" y2="682.2" stroke="#000" stroke-width="1.3"/>
<line x1="160.50" y1="679.6" x2="160.50" y2="683.8000000000001" stroke="#000" stroke-width="1.3"/>
<text x="160.50" y="694.00" font-size="11.5" fill="#000" text-anchor="middle" style="font-weight:bold;" >15</text>
<line x1="176.78" y1="679.6" x2="176.78" y2="682.2" stroke="#000" stroke-width="1.3"/>
<line x1="193.06" y1="679.6" x2="193.06" y2="683.8000000000001" stroke="#000" stroke-width="1.3"/>
<text x="193.06" y="694.00" font-size="11.5" fill="#000" text-anchor="middle" style="font-weight:bold;" >20</text>
<line x1="209.34" y1="679.6" x2="209.34" y2="682.2" stroke="#000" stroke-width="1.3"/>
<line x1="225.62" y1="679.6" x2="225.62" y2="683.8000000000001" stroke="#000" stroke-width="1.3"/>
<text x="225.62" y="694.00" font-size="11.5" fill="#000" text-anchor="middle" style="font-weight:bold;" >25</text>
<text x="144.71" y="710.1" font-size="11.5" fill="#000" text-anchor="middle" style="font-weight:bold;" >days after cell injection</text>
<text transform="translate(16.4,630.0) rotate(-90)" font-size="11.35" text-anchor="middle" style="font-weight:bold">Survival</text>
<text transform="translate(29.3,630.0) rotate(-90)" font-size="11.35" text-anchor="middle" style="font-weight:bold">probability (%)</text>
<path d="M62.80,594.40 L153.98,594.40 L153.98,665.40 L167.01,665.40 L167.01,679.60" fill="none" stroke="#f6a623" stroke-width="1.7"/>
<path d="M62.80,594.40 L199.57,594.40 L199.57,665.40 L212.60,665.40 L212.60,679.60" fill="none" stroke="#ee2a5c" stroke-width="1.7"/>
<line x1="162.9" y1="635.2" x2="189.8" y2="635.2" stroke="#000" stroke-width="1.5"/>
<path d="M157.9,635.2 L165.9,631.3000000000001 L165.9,639.1 Z M194.8,635.2 L186.8,631.3000000000001 L186.8,639.1 Z" fill="#000"/>
<text x="176.5" y="630.8" font-size="10.2" fill="#000" text-anchor="middle" style="font-weight:bold;" >***</text>
<line x1="64" y1="574.4" x2="70.8" y2="574.4" stroke="#000" stroke-width="1.5"/>
<path d="M58.3,576.0 L66.6,575.1999999999999 L62.4,582.6 Z" fill="#000"/>
<text x="76.0" y="576.8" font-size="10" fill="#1a3cf2" text-anchor="start" style="" ><tspan dy="-3.6" font-size="6.4">A</tspan><tspan dy="3.6">BCL cells</tspan></text>
<line x1="228.4" y1="594.4" x2="239.8" y2="594.4" stroke="#f6a623" stroke-width="1.7"/>
<text x="245.6" y="598.1" font-size="11.3" fill="#000" text-anchor="start" style="" >Vehicle</text>
<line x1="228.4" y1="611" x2="239.8" y2="611" stroke="#ee2a5c" stroke-width="1.7"/>
<text x="245.6" y="614.5" font-size="11.3" fill="#000" text-anchor="start" style="" >ASNase</text>
<text x="9.6" y="736.6" font-size="16" fill="#000" text-anchor="start" style="font-weight:bold;" >h.</text>
<rect x="44.5" y="742.2" width="171.5" height="172.5999999999999" fill="#fff" stroke="none"/>
<line x1="44.5" y1="749.10" x2="216" y2="749.10" stroke="#e9e9e9" stroke-width="0.6" stroke-dasharray="2,1.5"/>
<line x1="44.5" y1="774.20" x2="216" y2="774.20" stroke="#e9e9e9" stroke-width="0.6" stroke-dasharray="2,1.5"/>
<line x1="44.5" y1="799.30" x2="216" y2="799.30" stroke="#e9e9e9" stroke-width="0.6" stroke-dasharray="2,1.5"/>
<line x1="44.5" y1="824.40" x2="216" y2="824.40" stroke="#e9e9e9" stroke-width="0.6" stroke-dasharray="2,1.5"/>
<line x1="44.5" y1="849.50" x2="216" y2="849.50" stroke="#e9e9e9" stroke-width="0.6" stroke-dasharray="2,1.5"/>
<line x1="44.5" y1="874.60" x2="216" y2="874.60" stroke="#e9e9e9" stroke-width="0.6" stroke-dasharray="2,1.5"/>
<line x1="44.5" y1="899.70" x2="216" y2="899.70" stroke="#e9e9e9" stroke-width="0.6" stroke-dasharray="2,1.5"/>
<line x1="77.30" y1="742.2" x2="77.30" y2="914.8" stroke="#e9e9e9" stroke-width="0.6" stroke-dasharray="2,1.5"/>
<line x1="118.70" y1="742.2" x2="118.70" y2="914.8" stroke="#e9e9e9" stroke-width="0.6" stroke-dasharray="2,1.5"/>
<line x1="160.10" y1="742.2" x2="160.10" y2="914.8" stroke="#e9e9e9" stroke-width="0.6" stroke-dasharray="2,1.5"/>
<line x1="201.50" y1="742.2" x2="201.50" y2="914.8" stroke="#e9e9e9" stroke-width="0.6" stroke-dasharray="2,1.5"/>
<ellipse cx="97.3" cy="807" rx="16.4" ry="46.5" fill="#c8c8c8" fill-opacity="0.55" transform="rotate(-2 97.3 807)"/>
<ellipse cx="130.6" cy="844.6" rx="81" ry="29.5" fill="#8fd0f5" fill-opacity="0.5" transform="rotate(-35.5 130.6 844.6)"/>
<ellipse cx="91.8" cy="826.7" rx="3.9" ry="46.8" fill="#e6c88a" fill-opacity="0.45"/>
<ellipse cx="155.1" cy="818.8" rx="21.5" ry="11.8" fill="#c490c8" fill-opacity="0.55" transform="rotate(25 155.1 818.8)"/>
<circle cx="88.9" cy="784.1" r="1.8" fill="#999"/>
<circle cx="92.5" cy="799.9" r="1.8" fill="#999"/>
<circle cx="99.4" cy="800.4" r="1.8" fill="#999"/>
<circle cx="108.8" cy="797.8" r="1.8" fill="#999"/>
<circle cx="93.3" cy="828" r="1.8" fill="#999"/>
<circle cx="98.3" cy="833.3" r="1.8" fill="#999"/>
<circle cx="91.8" cy="789.9" r="1.8" fill="#f5a000"/>
<circle cx="92.8" cy="824.6" r="1.8" fill="#f5a000"/>
<circle cx="93.9" cy="831.2" r="1.8" fill="#f5a000"/>
<circle cx="89.9" cy="832.7" r="1.8" fill="#f5a000"/>
<circle cx="89.9" cy="838" r="1.8" fill="#f5a000"/>
<circle cx="91.2" cy="843.8" r="1.8" fill="#f5a000"/>
<rect x="137.20000000000002" y="813.8" width="3.2" height="3.2" fill="#1aa0f0"/>
<rect x="140.1" y="829.0" width="3.2" height="3.2" fill="#1aa0f0"/>
<rect x="146.1" y="838.1999999999999" width="3.2" height="3.2" fill="#1aa0f0"/>
<rect x="160.0" y="840.9" width="3.2" height="3.2" fill="#1aa0f0"/>
<rect x="92.80000000000001" y="868.5" width="3.2" height="3.2" fill="#1aa0f0"/>
<rect x="95.7" y="866.6" width="3.2" height="3.2" fill="#1aa0f0"/>
<rect x="151.4" y="810.6999999999999" width="3.2" height="3.2" fill="#e8195f"/>
<rect x="153.20000000000002" y="812.5" width="3.2" height="3.2" fill="#e8195f"/>
<rect x="151.4" y="815.4" width="3.2" height="3.2" fill="#e8195f"/>
<rect x="140.9" y="820.6" width="3.2" height="3.2" fill="#e8195f"/>
<rect x="161.9" y="823.0" width="3.2" height="3.2" fill="#e8195f"/>
<rect x="163.70000000000002" y="823.3" width="3.2" height="3.2" fill="#e8195f"/>
<rect x="44.5" y="742.2" width="171.5" height="172.5999999999999" fill="none" stroke="#6e6e6e" stroke-width="0.8"/>
<line x1="41.8" y1="749.10" x2="44.5" y2="749.10" stroke="#555" stroke-width="0.7"/>
<text transform="translate(39.6,749.10) rotate(-90)" font-size="7.6" fill="#333" text-anchor="middle">15</text>
<line x1="41.8" y1="774.20" x2="44.5" y2="774.20" stroke="#555" stroke-width="0.7"/>
<text transform="translate(39.6,774.20) rotate(-90)" font-size="7.6" fill="#333" text-anchor="middle">10</text>
<line x1="41.8" y1="799.30" x2="44.5" y2="799.30" stroke="#555" stroke-width="0.7"/>
<text transform="translate(39.6,799.30) rotate(-90)" font-size="7.6" fill="#333" text-anchor="middle">5</text>
<line x1="41.8" y1="824.40" x2="44.5" y2="824.40" stroke="#555" stroke-width="0.7"/>
<text transform="translate(39.6,824.40) rotate(-90)" font-size="7.6" fill="#333" text-anchor="middle">0</text>
<line x1="41.8" y1="849.50" x2="44.5" y2="849.50" stroke="#555" stroke-width="0.7"/>
<text transform="translate(39.6,849.50) rotate(-90)" font-size="7.6" fill="#333" text-anchor="middle">-5</text>
<line x1="41.8" y1="874.60" x2="44.5" y2="874.60" stroke="#555" stroke-width="0.7"/>
<text transform="translate(39.6,874.60) rotate(-90)" font-size="7.6" fill="#333" text-anchor="middle">-10</text>
<line x1="41.8" y1="899.70" x2="44.5" y2="899.70" stroke="#555" stroke-width="0.7"/>
<text transform="translate(39.6,899.70) rotate(-90)" font-size="7.6" fill="#333" text-anchor="middle">-15</text>
<line x1="77.30" y1="914.8" x2="77.30" y2="917.5" stroke="#555" stroke-width="0.7"/>
<text x="77.30" y="924.6" font-size="7.6" fill="#333" text-anchor="middle" style="" >-10</text>
<line x1="118.70" y1="914.8" x2="118.70" y2="917.5" stroke="#555" stroke-width="0.7"/>
<text x="118.70" y="924.6" font-size="7.6" fill="#333" text-anchor="middle" style="" >0</text>
<line x1="160.10" y1="914.8" x2="160.10" y2="917.5" stroke="#555" stroke-width="0.7"/>
<text x="160.10" y="924.6" font-size="7.6" fill="#333" text-anchor="middle" style="" >10</text>
<line x1="201.50" y1="914.8" x2="201.50" y2="917.5" stroke="#555" stroke-width="0.7"/>
<text x="201.50" y="924.6" font-size="7.6" fill="#333" text-anchor="middle" style="" >20</text>
<text x="131.6" y="938.2" font-size="8.8" fill="#222" text-anchor="middle" style="" >PC 1 ( 39.9 %)</text>
<text transform="translate(24.2,827.3) rotate(-90)" font-size="9" fill="#222" text-anchor="middle">PC 2 ( 14 %)</text>
<text x="241.9" y="749.3" font-size="11.8" fill="#981552" text-anchor="start" style="" >2<tspan dy="-4.2" font-size="7.6">nd</tspan><tspan dy="4.2"> challenge</tspan></text>
<path d="M229.6,760.6 V756.6 H325.5 V760.6" fill="none" stroke="#981552" stroke-width="1.3"/>
<circle cx="237.5" cy="772.4" r="3.5" fill="#a6a6a6"/>
<text x="247.2" y="776.4" font-size="11.7" fill="#000" text-anchor="start" style="" >Vehicle-<tspan dy="-4.2" font-size="7.2">V</tspan><tspan dy="4.2">BCL</tspan></text>
<rect x="234" y="790.4" width="7.3" height="7" fill="#29aaf4"/>
<text x="245.4" y="797.4" font-size="11.7" fill="#000" text-anchor="start" style="" ><tspan fill="#1a3cf2">ASNase</tspan>-<tspan dy="-4.2" font-size="7.2">V</tspan><tspan dy="4.2">BCL</tspan></text>
<circle cx="238.4" cy="816.6" r="3.5" fill="#f5a00f"/>
<text x="247.2" y="819.7" font-size="11.7" fill="#000" text-anchor="start" style="" >Vehicle-<tspan fill="#1a3cf2"><tspan dy="-4.2" font-size="7.2">A</tspan><tspan dy="4.2">BCL</tspan></tspan></text>
<rect x="235.4" y="834.8" width="7" height="7" fill="#e8185f"/>
<text x="245.9" y="841.8" font-size="11.7" fill="#1a3cf2" text-anchor="start" style="" >ASNase-<tspan dy="-4.2" font-size="7.2">A</tspan><tspan dy="4.2">BCL</tspan></text>
<text x="318.8" y="443.4" font-size="16" fill="#000" text-anchor="start" style="font-weight:bold;" >i.</text>
<text x="339.7" y="462.4" font-size="11.65" fill="#981552" text-anchor="start" style="" >1<tspan dy="-4.2" font-size="7.6">st</tspan><tspan dy="4.2"> challenge</tspan></text>
<path d="M328,472.2 V469 H419.9 V472.2" fill="none" stroke="#981552" stroke-width="1.3"/>
<text x="486.6" y="462.3" font-size="11.8" fill="#981552" text-anchor="start" style="" >2<tspan dy="-4.2" font-size="7.6">nd</tspan><tspan dy="4.2"> challenge</tspan></text>
<path d="M423.6,472.4 V468.4 H613.7 V472.4" fill="none" stroke="#981552" stroke-width="1.3"/>
<path d="M379.6,522.4 V475.9 H596.7" fill="none" stroke="#1a3cf2" stroke-width="1.4"/>
<path d="M331.8,522.4 V481.6 H500.9" fill="none" stroke="#000" stroke-width="1.4"/>
<line x1="450.1" y1="481.6" x2="450.1" y2="486" stroke="#000" stroke-width="1.4"/>
<path d="M446.70000000000005,485.2 L453.5,485.2 L450.1,491.8 Z" fill="#000"/>
<line x1="500.9" y1="481.6" x2="500.9" y2="486" stroke="#000" stroke-width="1.4"/>
<path d="M497.5,485.2 L504.29999999999995,485.2 L500.9,491.8 Z" fill="#000"/>
<line x1="548" y1="475.9" x2="548" y2="486" stroke="#1a3cf2" stroke-width="1.4"/>
<path d="M544.6,486 L551.4,486 L548,492.6 Z" fill="#1a3cf2"/>
<line x1="596.7" y1="475.9" x2="596.7" y2="486" stroke="#1a3cf2" stroke-width="1.4"/>
<path d="M593.3000000000001,486 L600.1,486 L596.7,492.6 Z" fill="#1a3cf2"/>
<text x="338.4" y="518" font-size="11.5" fill="#000" text-anchor="start" style="" ><tspan dy="-4.2" font-size="7.2">V</tspan><tspan dy="4.2">BCL</tspan></text>
<text x="386.4" y="518" font-size="11.5" fill="#1a3cf2" text-anchor="start" style="" ><tspan dy="-4.2" font-size="7.2">A</tspan><tspan dy="4.2">BCL</tspan></text>
<text x="449" y="505" font-size="11.5" fill="#000" text-anchor="middle" style="" >Vehicle</text>
<text x="449.2" y="518.8" font-size="11.5" fill="#000" text-anchor="middle" style="" >-<tspan dy="-4.2" font-size="7.2">V</tspan><tspan dy="4.2">BCL</tspan></text>
<text x="498.9" y="505" font-size="11.5" fill="#1a3cf2" text-anchor="middle" style="" >ASNase</text>
<text x="499.4" y="518.8" font-size="11.5" fill="#000" text-anchor="middle" style="" >-<tspan dy="-4.2" font-size="7.2">V</tspan><tspan dy="4.2">BCL</tspan></text>
<text x="547.2" y="505" font-size="11.5" fill="#000" text-anchor="middle" style="" >Vehicle</text>
<text x="547.3" y="518.8" font-size="11.5" fill="#000" text-anchor="middle" style="" >-<tspan fill="#1a3cf2"><tspan dy="-4.2" font-size="7.2">A</tspan><tspan dy="4.2">BCL</tspan></tspan></text>
<text x="595.1" y="505" font-size="11.5" fill="#1a3cf2" text-anchor="middle" style="" >ASNase</text>
<text x="595.6" y="518.8" font-size="11.5" fill="#000" text-anchor="middle" style="" >-<tspan fill="#1a3cf2"><tspan dy="-4.2" font-size="7.2">A</tspan><tspan dy="4.2">BCL</tspan></tspan></text>
<text x="619.4" y="504.6" font-size="10.25" fill="#000" text-anchor="start" style="" >: treatment</text>
<text x="619.4" y="518.7" font-size="10.3" fill="#000" text-anchor="start" style="" >: cell origin</text>
<text x="624.7" y="531.2" font-size="9.5" fill="#000" text-anchor="start" style="font-weight:bold;" >class</text>
<rect x="327.60" y="524.8" width="49.10" height="7" fill="#000"/>
<rect x="376.65" y="524.8" width="49.10" height="7" fill="#0a2af5"/>
<rect x="425.70" y="524.8" width="49.10" height="7" fill="#959595"/>
<rect x="474.75" y="524.8" width="49.10" height="7" fill="#18b0f0"/>
<rect x="523.80" y="524.8" width="49.10" height="7" fill="#f7a000"/>
<rect x="572.85" y="524.8" width="49.10" height="7" fill="#f0104a"/>
<rect x="327.60" y="537.2" width="8.22" height="15.6" fill="#e07b62"/>
<rect x="327.60" y="552.8" width="8.22" height="15.5" fill="#d4e6f1"/>
<text transform="translate(329.09,572.2) rotate(90)" font-size="7.5" fill="#111">738</text>
<rect x="335.78" y="537.2" width="8.22" height="15.6" fill="#f4b59b"/>
<rect x="335.78" y="552.8" width="8.22" height="15.5" fill="#a9cfe4"/>
<text transform="translate(337.26,572.2) rotate(90)" font-size="7.5" fill="#111">760</text>
<rect x="343.95" y="537.2" width="8.22" height="15.6" fill="#ec9478"/>
<rect x="343.95" y="552.8" width="8.22" height="15.5" fill="#a9cfe4"/>
<text transform="translate(345.44,572.2) rotate(90)" font-size="7.5" fill="#111">761</text>
<rect x="352.12" y="537.2" width="8.22" height="15.6" fill="#f8c9b1"/>
<rect x="352.12" y="552.8" width="8.22" height="15.5" fill="#7db4d6"/>
<text transform="translate(353.61,572.2) rotate(90)" font-size="7.5" fill="#111">762</text>
<rect x="360.30" y="537.2" width="8.22" height="15.6" fill="#f0a080"/>
<rect x="360.30" y="552.8" width="8.22" height="15.5" fill="#92c2dd"/>
<text transform="translate(361.79,572.2) rotate(90)" font-size="7.5" fill="#111">763</text>
<rect x="368.48" y="537.2" width="8.22" height="15.6" fill="#c83a3a"/>
<rect x="368.48" y="552.8" width="8.22" height="15.5" fill="#a5cce3"/>
<text transform="translate(369.96,572.2) rotate(90)" font-size="7.5" fill="#111">764</text>
<rect x="376.65" y="537.2" width="8.22" height="15.6" fill="#b7d4e8"/>
<rect x="376.65" y="552.8" width="8.22" height="15.5" fill="#ec9373"/>
<text transform="translate(378.14,572.2) rotate(90)" font-size="7.5" fill="#111">750</text>
<rect x="384.83" y="537.2" width="8.22" height="15.6" fill="#b7d4e8"/>
<rect x="384.83" y="552.8" width="8.22" height="15.5" fill="#f0a283"/>
<text transform="translate(386.31,572.2) rotate(90)" font-size="7.5" fill="#111">751</text>
<rect x="393.00" y="537.2" width="8.22" height="15.6" fill="#b2d2e6"/>
<rect x="393.00" y="552.8" width="8.22" height="15.5" fill="#e47a62"/>
<text transform="translate(394.49,572.2) rotate(90)" font-size="7.5" fill="#111">754</text>
<rect x="401.18" y="537.2" width="8.22" height="15.6" fill="#7fb3d6"/>
<rect x="401.18" y="552.8" width="8.22" height="15.5" fill="#ee9a7c"/>
<text transform="translate(402.66,572.2) rotate(90)" font-size="7.5" fill="#111">755</text>
<rect x="409.35" y="537.2" width="8.22" height="15.6" fill="#bdd9ea"/>
<rect x="409.35" y="552.8" width="8.22" height="15.5" fill="#fbd5c1"/>
<text transform="translate(410.84,572.2) rotate(90)" font-size="7.5" fill="#111">756</text>
<rect x="417.52" y="537.2" width="8.22" height="15.6" fill="#b1d2e6"/>
<rect x="417.52" y="552.8" width="8.22" height="15.5" fill="#f9cdb4"/>
<text transform="translate(419.01,572.2) rotate(90)" font-size="7.5" fill="#111">758</text>
<rect x="425.70" y="537.2" width="8.22" height="15.6" fill="#fbd4bf"/>
<rect x="425.70" y="552.8" width="8.22" height="15.5" fill="#8ebfdd"/>
<text transform="translate(427.19,572.2) rotate(90)" font-size="7.5" fill="#111">829</text>
<rect x="433.88" y="537.2" width="8.22" height="15.6" fill="#e0755e"/>
<rect x="433.88" y="552.8" width="8.22" height="15.5" fill="#9ac7e0"/>
<text transform="translate(435.36,572.2) rotate(90)" font-size="7.5" fill="#111">830</text>
<rect x="442.05" y="537.2" width="8.22" height="15.6" fill="#f4b498"/>
<rect x="442.05" y="552.8" width="8.22" height="15.5" fill="#d4e6ef"/>
<text transform="translate(443.54,572.2) rotate(90)" font-size="7.5" fill="#111">831</text>
<rect x="450.23" y="537.2" width="8.22" height="15.6" fill="#f9c8b0"/>
<rect x="450.23" y="552.8" width="8.22" height="15.5" fill="#9fc8e2"/>
<text transform="translate(451.71,572.2) rotate(90)" font-size="7.5" fill="#111">832</text>
<rect x="458.40" y="537.2" width="8.22" height="15.6" fill="#f9cdb5"/>
<rect x="458.40" y="552.8" width="8.22" height="15.5" fill="#78b1d6"/>
<text transform="translate(459.89,572.2) rotate(90)" font-size="7.5" fill="#111">833</text>
<rect x="466.58" y="537.2" width="8.22" height="15.6" fill="#f6c0a6"/>
<rect x="466.58" y="552.8" width="8.22" height="15.5" fill="#b3d5e8"/>
<text transform="translate(468.06,572.2) rotate(90)" font-size="7.5" fill="#111">834</text>
<rect x="474.75" y="537.2" width="8.22" height="15.6" fill="#a9cde3"/>
<rect x="474.75" y="552.8" width="8.22" height="15.5" fill="#f0a386"/>
<text transform="translate(476.24,572.2) rotate(90)" font-size="7.5" fill="#111">835</text>
<rect x="482.93" y="537.2" width="8.22" height="15.6" fill="#9cc7e0"/>
<rect x="482.93" y="552.8" width="8.22" height="15.5" fill="#d9604d"/>
<text transform="translate(484.41,572.2) rotate(90)" font-size="7.5" fill="#111">836</text>
<rect x="491.10" y="537.2" width="8.22" height="15.6" fill="#9cc7e0"/>
<rect x="491.10" y="552.8" width="8.22" height="15.5" fill="#e57e65"/>
<text transform="translate(492.59,572.2) rotate(90)" font-size="7.5" fill="#111">837</text>
<rect x="499.27" y="537.2" width="8.22" height="15.6" fill="#92c2dd"/>
<rect x="499.27" y="552.8" width="8.22" height="15.5" fill="#e57e65"/>
<text transform="translate(500.76,572.2) rotate(90)" font-size="7.5" fill="#111">838</text>
<rect x="507.45" y="537.2" width="8.22" height="15.6" fill="#8bbfdc"/>
<rect x="507.45" y="552.8" width="8.22" height="15.5" fill="#92c2dd"/>
<text transform="translate(508.94,572.2) rotate(90)" font-size="7.5" fill="#111">839</text>
<rect x="515.62" y="537.2" width="8.22" height="15.6" fill="#96c4df"/>
<rect x="515.62" y="552.8" width="8.22" height="15.5" fill="#9cc7e0"/>
<text transform="translate(517.11,572.2) rotate(90)" font-size="7.5" fill="#111">840</text>
<rect x="523.80" y="537.2" width="8.22" height="15.6" fill="#f4aa8e"/>
<rect x="523.80" y="552.8" width="8.22" height="15.5" fill="#e0e0e0"/>
<text transform="translate(525.29,572.2) rotate(90)" font-size="7.5" fill="#111">841</text>
<rect x="531.98" y="537.2" width="8.22" height="15.6" fill="#fbd0bb"/>
<rect x="531.98" y="552.8" width="8.22" height="15.5" fill="#8fc0dd"/>
<text transform="translate(533.46,572.2) rotate(90)" font-size="7.5" fill="#111">842</text>
<rect x="540.15" y="537.2" width="8.22" height="15.6" fill="#e8866c"/>
<rect x="540.15" y="552.8" width="8.22" height="15.5" fill="#b0d2e6"/>
<text transform="translate(541.64,572.2) rotate(90)" font-size="7.5" fill="#111">843</text>
<rect x="548.33" y="537.2" width="8.22" height="15.6" fill="#f7bca2"/>
<rect x="548.33" y="552.8" width="8.22" height="15.5" fill="#aed1e6"/>
<text transform="translate(549.81,572.2) rotate(90)" font-size="7.5" fill="#111">844</text>
<rect x="556.50" y="537.2" width="8.22" height="15.6" fill="#f7bca2"/>
<rect x="556.50" y="552.8" width="8.22" height="15.5" fill="#86bbdb"/>
<text transform="translate(557.99,572.2) rotate(90)" font-size="7.5" fill="#111">845</text>
<rect x="564.67" y="537.2" width="8.22" height="15.6" fill="#fad1bd"/>
<rect x="564.67" y="552.8" width="8.22" height="15.5" fill="#a5cbe2"/>
<text transform="translate(566.16,572.2) rotate(90)" font-size="7.5" fill="#111">846</text>
<rect x="572.85" y="537.2" width="8.22" height="15.6" fill="#a9cde3"/>
<rect x="572.85" y="552.8" width="8.22" height="15.5" fill="#f4ae92"/>
<text transform="translate(574.34,572.2) rotate(90)" font-size="7.5" fill="#111">847</text>
<rect x="581.02" y="537.2" width="8.22" height="15.6" fill="#9cc7e0"/>
<rect x="581.02" y="552.8" width="8.22" height="15.5" fill="#e58469"/>
<text transform="translate(582.51,572.2) rotate(90)" font-size="7.5" fill="#111">848</text>
<rect x="589.20" y="537.2" width="8.22" height="15.6" fill="#84bbdb"/>
<rect x="589.20" y="552.8" width="8.22" height="15.5" fill="#f9c8b1"/>
<text transform="translate(590.69,572.2) rotate(90)" font-size="7.5" fill="#111">849</text>
<rect x="597.38" y="537.2" width="8.22" height="15.6" fill="#a1c9e1"/>
<rect x="597.38" y="552.8" width="8.22" height="15.5" fill="#f1a386"/>
<text transform="translate(598.86,572.2) rotate(90)" font-size="7.5" fill="#111">850</text>
<rect x="605.55" y="537.2" width="8.22" height="15.6" fill="#a1c9e1"/>
<rect x="605.55" y="552.8" width="8.22" height="15.5" fill="#f9c8b1"/>
<text transform="translate(607.04,572.2) rotate(90)" font-size="7.5" fill="#111">851</text>
<rect x="613.72" y="537.2" width="8.22" height="15.6" fill="#a1c9e1"/>
<rect x="613.72" y="552.8" width="8.22" height="15.5" fill="#f4ae92"/>
<text transform="translate(615.21,572.2) rotate(90)" font-size="7.5" fill="#111">852</text>
<text x="624.7" y="547.3" font-size="10" fill="#000" text-anchor="start" style="" >Asparagine</text>
<text x="624.7" y="564.8" font-size="10.3" fill="#000" text-anchor="start" style="" >Serine</text>
<rect x="489.3" y="592.8" width="125" height="8.2" fill="url(#rdbu)"/>
<text x="492.1" y="611" font-size="8" fill="#111" text-anchor="middle" style="" >3</text>
<text x="512.2" y="611" font-size="8" fill="#111" text-anchor="middle" style="" >2</text>
<text x="531.9" y="611" font-size="8" fill="#111" text-anchor="middle" style="" >1</text>
<text x="551.2" y="611" font-size="8" fill="#111" text-anchor="middle" style="" >0</text>
<text x="571.1" y="611" font-size="8" fill="#111" text-anchor="middle" style="" >-1</text>
<text x="591" y="611" font-size="8" fill="#111" text-anchor="middle" style="" >-2</text>
<text x="610.3" y="611" font-size="8" fill="#111" text-anchor="middle" style="" >-3</text>
<text x="343.9" y="651.2" font-size="16" fill="#000" text-anchor="start" style="font-weight:bold;" >j.</text>
<text x="369.2" y="661.5" font-size="11.8" fill="#981552" text-anchor="start" style="" >1<tspan dy="-4.2" font-size="7.6">st</tspan><tspan dy="4.2"> challenge</tspan></text>
<path d="M395.8,674.3000000000001 V670.7 H423 V674.3000000000001" fill="none" stroke="#981552" stroke-width="1.3"/>
<text x="502" y="661.8" font-size="11.7" fill="#981552" text-anchor="start" style="" >2<tspan dy="-4.2" font-size="7.6">nd</tspan><tspan dy="4.2"> challenge</tspan></text>
<path d="M435.5,674.0 V670.3 H625.5 V674.0" fill="none" stroke="#981552" stroke-width="1.3"/>
<path d="M417.9,691.1 V681.3 H579.6" fill="none" stroke="#1a3cf2" stroke-width="1.4"/>
<line x1="476.7" y1="681.3" x2="476.7" y2="689" stroke="#1a3cf2" stroke-width="1.4"/>
<path d="M473.2,688.2 L480.2,688.2 L476.7,695.2 Z" fill="#1a3cf2"/>
<line x1="579.6" y1="681.3" x2="579.6" y2="689" stroke="#1a3cf2" stroke-width="1.4"/>
<path d="M576.1,688.2 L583.1,688.2 L579.6,695.2 Z" fill="#1a3cf2"/>
<text transform="translate(404.8,712.6) rotate(-90)" font-size="11.6" text-anchor="middle"><tspan dy="-4.2" font-size="7.4">V</tspan><tspan dy="4.2">BCL</tspan></text>
<text transform="translate(421.2,711.6) rotate(-90)" font-size="11.6" text-anchor="middle" fill="#1a3cf2"><tspan dy="-4.2" font-size="7.4">A</tspan><tspan dy="4.2">BCL</tspan></text>
<rect x="434.6" y="700" width="81.4" height="19" fill="none" stroke="#f7a11a" stroke-width="1.9"/>
<text x="444.4" y="714.5" font-size="10.25" fill="#000" text-anchor="start" style="" >Vehicle-<tspan fill="#1a3cf2"><tspan dy="-3.6" font-size="6.6">A</tspan><tspan dy="3.6">BCL</tspan></tspan></text>
<rect x="537.2" y="700.2" width="81.3" height="19.2" fill="none" stroke="#e8196c" stroke-width="1.9"/>
<text x="544.7" y="714" font-size="10.25" fill="#1a3cf2" text-anchor="start" style="" >ASNase-<tspan dy="-3.6" font-size="6.6">A</tspan><tspan dy="3.6">BCL</tspan></text>
<line x1="427.7" y1="725.2" x2="523.8" y2="725.2" stroke="#222" stroke-width="1.3"/>
<line x1="528.8" y1="725.2" x2="624.6" y2="725.2" stroke="#222" stroke-width="1.3"/>
<text transform="translate(404.70,740.1) rotate(-90)" font-size="8" text-anchor="middle" fill="#111">738</text>
<text transform="translate(421.25,740.1) rotate(-90)" font-size="8" text-anchor="middle" fill="#111">750</text>
<text transform="translate(437.80,740.1) rotate(-90)" font-size="8" text-anchor="middle" fill="#111">841</text>
<text transform="translate(454.35,740.1) rotate(-90)" font-size="8" text-anchor="middle" fill="#111">842</text>
<text transform="translate(470.90,740.1) rotate(-90)" font-size="8" text-anchor="middle" fill="#111">843</text>
<text transform="translate(487.45,740.1) rotate(-90)" font-size="8" text-anchor="middle" fill="#111">844</text>
<text transform="translate(504.00,740.1) rotate(-90)" font-size="8" text-anchor="middle" fill="#111">845</text>
<text transform="translate(520.55,740.1) rotate(-90)" font-size="8" text-anchor="middle" fill="#111">846</text>
<text transform="translate(537.10,740.1) rotate(-90)" font-size="8" text-anchor="middle" fill="#111">847</text>
<text transform="translate(553.65,740.1) rotate(-90)" font-size="8" text-anchor="middle" fill="#111">848</text>
<text transform="translate(570.20,740.1) rotate(-90)" font-size="8" text-anchor="middle" fill="#111">849</text>
<text transform="translate(586.75,740.1) rotate(-90)" font-size="8" text-anchor="middle" fill="#111">850</text>
<text transform="translate(603.30,740.1) rotate(-90)" font-size="8" text-anchor="middle" fill="#111">851</text>
<text transform="translate(619.85,740.1) rotate(-90)" font-size="8" text-anchor="middle" fill="#111">852</text>
<text x="627.8" y="741.5" font-size="7.5" fill="#111" text-anchor="start" style="" >: mouse #</text>
<rect x="389.5" y="754.8" width="240.10000000000002" height="31.5" fill="url(#blotbg)" stroke="#222" stroke-width="1.1"/>
<rect x="389.5" y="790.8" width="240.10000000000002" height="36.90000000000009" fill="url(#blotbg)" stroke="#222" stroke-width="1.1"/>
<rect x="389.5" y="832.2" width="240.10000000000002" height="36.69999999999993" fill="url(#blotbg)" stroke="#222" stroke-width="1.1"/>
<rect x="389.5" y="873.4" width="240.10000000000002" height="32.10000000000002" fill="url(#blotbg)" stroke="#222" stroke-width="1.1"/>
<rect x="389.5" y="910.2" width="240.10000000000002" height="29.299999999999955" fill="url(#blotbg)" stroke="#222" stroke-width="1.1"/>
<rect x="394.95" y="769.40" width="13.70" height="4.40" rx="2.20" fill="#000" fill-opacity="0.85" filter="url(#bl1)" transform="rotate(0 401.80 771.60)"/>
<rect x="411.50" y="769.40" width="13.70" height="4.40" rx="2.20" fill="#000" fill-opacity="0.80" filter="url(#bl1)" transform="rotate(0 418.35 771.60)"/>
<rect x="428.05" y="769.40" width="13.70" height="4.40" rx="2.20" fill="#000" fill-opacity="0.85" filter="url(#bl1)" transform="rotate(0 434.90 771.60)"/>
<rect x="444.60" y="769.40" width="13.70" height="4.40" rx="2.20" fill="#000" fill-opacity="0.85" filter="url(#bl1)" transform="rotate(0 451.45 771.60)"/>
<rect x="461.15" y="769.40" width="13.70" height="4.40" rx="2.20" fill="#000" fill-opacity="0.75" filter="url(#bl1)" transform="rotate(0 468.00 771.60)"/>
<rect x="477.70" y="769.40" width="13.70" height="4.40" rx="2.20" fill="#000" fill-opacity="0.75" filter="url(#bl1)" transform="rotate(0 484.55 771.60)"/>
<rect x="494.25" y="769.40" width="13.70" height="4.40" rx="2.20" fill="#000" fill-opacity="0.70" filter="url(#bl1)" transform="rotate(0 501.10 771.60)"/>
<rect x="510.80" y="769.40" width="13.70" height="4.40" rx="2.20" fill="#000" fill-opacity="0.70" filter="url(#bl1)" transform="rotate(0 517.65 771.60)"/>
<rect x="527.35" y="769.40" width="13.70" height="4.40" rx="2.20" fill="#000" fill-opacity="1.00" filter="url(#bl1)" transform="rotate(0 534.20 771.60)"/>
<rect x="543.90" y="769.40" width="13.70" height="4.40" rx="2.20" fill="#000" fill-opacity="0.85" filter="url(#bl1)" transform="rotate(0 550.75 771.60)"/>
<rect x="560.45" y="769.40" width="13.70" height="4.40" rx="2.20" fill="#000" fill-opacity="0.85" filter="url(#bl1)" transform="rotate(0 567.30 771.60)"/>
<rect x="577.00" y="769.40" width="13.70" height="4.40" rx="2.20" fill="#000" fill-opacity="0.60" filter="url(#bl1)" transform="rotate(0 583.85 771.60)"/>
<rect x="593.55" y="769.40" width="13.70" height="4.40" rx="2.20" fill="#000" fill-opacity="0.70" filter="url(#bl1)" transform="rotate(0 600.40 771.60)"/>
<rect x="610.10" y="769.40" width="13.70" height="4.40" rx="2.20" fill="#000" fill-opacity="0.90" filter="url(#bl1)" transform="rotate(0 616.95 771.60)"/>
<rect x="394.95" y="808.00" width="13.70" height="4.40" rx="2.20" fill="#000" fill-opacity="0.40" filter="url(#bl1)" transform="rotate(0 401.80 810.20)"/>
<rect x="411.50" y="808.10" width="13.70" height="4.40" rx="2.20" fill="#000" fill-opacity="1.00" filter="url(#bl1)" transform="rotate(0 418.35 810.30)"/>
<rect x="428.05" y="808.10" width="13.70" height="4.40" rx="2.20" fill="#000" fill-opacity="0.85" filter="url(#bl1)" transform="rotate(0 434.90 810.30)"/>
<rect x="444.60" y="809.00" width="13.70" height="4.40" rx="2.20" fill="#000" fill-opacity="0.50" filter="url(#bl1)" transform="rotate(0 451.45 811.20)"/>
<rect x="461.15" y="808.80" width="13.70" height="4.40" rx="2.20" fill="#000" fill-opacity="0.52" filter="url(#bl1)" transform="rotate(0 468.00 811.00)"/>
<rect x="477.70" y="807.60" width="13.70" height="4.40" rx="2.20" fill="#000" fill-opacity="0.42" filter="url(#bl1)" transform="rotate(0 484.55 809.80)"/>
<rect x="494.25" y="806.80" width="13.70" height="4.40" rx="2.20" fill="#000" fill-opacity="0.32" filter="url(#bl1)" transform="rotate(0 501.10 809.00)"/>
<rect x="510.80" y="808.60" width="13.70" height="4.40" rx="2.20" fill="#000" fill-opacity="0.50" filter="url(#bl1)" transform="rotate(0 517.65 810.80)"/>
<rect x="527.35" y="809.20" width="13.70" height="4.40" rx="2.20" fill="#000" fill-opacity="1.00" filter="url(#bl1)" transform="rotate(0 534.20 811.40)"/>
<rect x="543.90" y="810.20" width="13.70" height="4.40" rx="2.20" fill="#000" fill-opacity="0.95" filter="url(#bl1)" transform="rotate(0 550.75 812.40)"/>
<rect x="560.45" y="810.40" width="13.70" height="4.40" rx="2.20" fill="#000" fill-opacity="0.95" filter="url(#bl1)" transform="rotate(0 567.30 812.60)"/>
<rect x="577.00" y="809.80" width="13.70" height="4.40" rx="2.20" fill="#000" fill-opacity="0.65" filter="url(#bl1)" transform="rotate(0 583.85 812.00)"/>
<rect x="593.55" y="808.40" width="13.70" height="4.40" rx="2.20" fill="#000" fill-opacity="0.90" filter="url(#bl1)" transform="rotate(0 600.40 810.60)"/>
<rect x="610.10" y="807.40" width="13.70" height="4.40" rx="2.20" fill="#000" fill-opacity="0.45" filter="url(#bl1)" transform="rotate(0 616.95 809.60)"/>
<rect x="394.95" y="849.55" width="13.70" height="3.90" rx="1.95" fill="#000" fill-opacity="0.32" filter="url(#bl1)" transform="rotate(0 401.80 851.50)"/>
<rect x="411.50" y="849.55" width="13.70" height="3.90" rx="1.95" fill="#000" fill-opacity="0.92" filter="url(#bl1)" transform="rotate(0 418.35 851.50)"/>
<rect x="428.05" y="849.55" width="13.70" height="3.90" rx="1.95" fill="#000" fill-opacity="0.38" filter="url(#bl1)" transform="rotate(0 434.90 851.50)"/>
<rect x="444.60" y="849.55" width="13.70" height="3.90" rx="1.95" fill="#000" fill-opacity="0.45" filter="url(#bl1)" transform="rotate(0 451.45 851.50)"/>
<rect x="461.15" y="849.55" width="13.70" height="3.90" rx="1.95" fill="#000" fill-opacity="0.55" filter="url(#bl1)" transform="rotate(0 468.00 851.50)"/>
<rect x="477.70" y="849.55" width="13.70" height="3.90" rx="1.95" fill="#000" fill-opacity="0.50" filter="url(#bl1)" transform="rotate(0 484.55 851.50)"/>
<rect x="494.25" y="849.55" width="13.70" height="3.90" rx="1.95" fill="#000" fill-opacity="0.55" filter="url(#bl1)" transform="rotate(0 501.10 851.50)"/>
<rect x="510.80" y="849.55" width="13.70" height="3.90" rx="1.95" fill="#000" fill-opacity="0.35" filter="url(#bl1)" transform="rotate(0 517.65 851.50)"/>
<rect x="527.35" y="849.55" width="13.70" height="3.90" rx="1.95" fill="#000" fill-opacity="0.88" filter="url(#bl1)" transform="rotate(0 534.20 851.50)"/>
<rect x="543.90" y="849.55" width="13.70" height="3.90" rx="1.95" fill="#000" fill-opacity="0.85" filter="url(#bl1)" transform="rotate(0 550.75 851.50)"/>
<rect x="560.45" y="849.55" width="13.70" height="3.90" rx="1.95" fill="#000" fill-opacity="0.80" filter="url(#bl1)" transform="rotate(0 567.30 851.50)"/>
<rect x="577.00" y="849.55" width="13.70" height="3.90" rx="1.95" fill="#000" fill-opacity="0.82" filter="url(#bl1)" transform="rotate(0 583.85 851.50)"/>
<rect x="593.55" y="849.55" width="13.70" height="3.90" rx="1.95" fill="#000" fill-opacity="0.90" filter="url(#bl1)" transform="rotate(0 600.40 851.50)"/>
<rect x="610.10" y="849.55" width="13.70" height="3.90" rx="1.95" fill="#000" fill-opacity="0.75" filter="url(#bl1)" transform="rotate(0 616.95 851.50)"/>
<rect x="394.80" y="887.00" width="14.00" height="4.00" rx="2.00" fill="#000" fill-opacity="0.38" filter="url(#bl1)" transform="rotate(0 401.80 889.00)"/>
<rect x="411.35" y="887.30" width="14.00" height="4.60" rx="2.30" fill="#000" fill-opacity="1.00" filter="url(#bl1)" transform="rotate(0 418.35 889.60)"/>
<rect x="427.90" y="888.20" width="14.00" height="4.00" rx="2.00" fill="#000" fill-opacity="0.50" filter="url(#bl1)" transform="rotate(0 434.90 890.20)"/>
<rect x="444.45" y="888.60" width="14.00" height="4.00" rx="2.00" fill="#000" fill-opacity="0.30" filter="url(#bl1)" transform="rotate(0 451.45 890.60)"/>
<rect x="461.00" y="888.80" width="14.00" height="4.00" rx="2.00" fill="#000" fill-opacity="0.30" filter="url(#bl1)" transform="rotate(0 468.00 890.80)"/>
<rect x="477.55" y="889.00" width="14.00" height="4.00" rx="2.00" fill="#000" fill-opacity="0.27" filter="url(#bl1)" transform="rotate(0 484.55 891.00)"/>
<rect x="494.10" y="889.20" width="14.00" height="4.00" rx="2.00" fill="#000" fill-opacity="0.27" filter="url(#bl1)" transform="rotate(0 501.10 891.20)"/>
<rect x="510.65" y="889.40" width="14.00" height="4.00" rx="2.00" fill="#000" fill-opacity="0.27" filter="url(#bl1)" transform="rotate(0 517.65 891.40)"/>
<rect x="527.20" y="889.70" width="14.00" height="4.60" rx="2.30" fill="#000" fill-opacity="0.95" filter="url(#bl1)" transform="rotate(0 534.20 892.00)"/>
<rect x="543.75" y="889.70" width="14.00" height="4.60" rx="2.30" fill="#000" fill-opacity="0.95" filter="url(#bl1)" transform="rotate(0 550.75 892.00)"/>
<rect x="560.30" y="889.30" width="14.00" height="4.60" rx="2.30" fill="#000" fill-opacity="0.95" filter="url(#bl1)" transform="rotate(0 567.30 891.60)"/>
<rect x="576.85" y="888.70" width="14.00" height="4.60" rx="2.30" fill="#000" fill-opacity="0.95" filter="url(#bl1)" transform="rotate(0 583.85 891.00)"/>
<rect x="593.40" y="888.10" width="14.00" height="4.60" rx="2.30" fill="#000" fill-opacity="0.95" filter="url(#bl1)" transform="rotate(0 600.40 890.40)"/>
<rect x="609.95" y="886.70" width="14.00" height="4.60" rx="2.30" fill="#000" fill-opacity="1.00" filter="url(#bl1)" transform="rotate(0 616.95 889.00)"/>
<rect x="394.80" y="921.70" width="14.00" height="3.80" rx="1.90" fill="#000" fill-opacity="0.85" filter="url(#bl1)" transform="rotate(0 401.80 923.60)"/>
<rect x="411.35" y="921.90" width="14.00" height="3.80" rx="1.90" fill="#000" fill-opacity="0.85" filter="url(#bl1)" transform="rotate(0 418.35 923.80)"/>
<rect x="427.90" y="921.70" width="14.00" height="3.80" rx="1.90" fill="#000" fill-opacity="0.85" filter="url(#bl1)" transform="rotate(0 434.90 923.60)"/>
<rect x="444.45" y="923.10" width="14.00" height="3.80" rx="1.90" fill="#000" fill-opacity="0.85" filter="url(#bl1)" transform="rotate(0 451.45 925.00)"/>
<rect x="461.00" y="923.10" width="14.00" height="3.80" rx="1.90" fill="#000" fill-opacity="0.85" filter="url(#bl1)" transform="rotate(0 468.00 925.00)"/>
<rect x="477.55" y="923.10" width="14.00" height="3.80" rx="1.90" fill="#000" fill-opacity="0.85" filter="url(#bl1)" transform="rotate(0 484.55 925.00)"/>
<rect x="494.10" y="923.60" width="14.00" height="3.80" rx="1.90" fill="#000" fill-opacity="0.85" filter="url(#bl1)" transform="rotate(0 501.10 925.50)"/>
<rect x="510.65" y="923.60" width="14.00" height="3.80" rx="1.90" fill="#000" fill-opacity="0.85" filter="url(#bl1)" transform="rotate(0 517.65 925.50)"/>
<rect x="527.20" y="924.10" width="14.00" height="3.80" rx="1.90" fill="#000" fill-opacity="0.85" filter="url(#bl1)" transform="rotate(0 534.20 926.00)"/>
<rect x="543.75" y="924.10" width="14.00" height="3.80" rx="1.90" fill="#000" fill-opacity="0.85" filter="url(#bl1)" transform="rotate(0 550.75 926.00)"/>
<rect x="560.30" y="924.10" width="14.00" height="3.80" rx="1.90" fill="#000" fill-opacity="0.85" filter="url(#bl1)" transform="rotate(0 567.30 926.00)"/>
<rect x="576.85" y="924.10" width="14.00" height="3.80" rx="1.90" fill="#000" fill-opacity="0.85" filter="url(#bl1)" transform="rotate(0 583.85 926.00)"/>
<rect x="593.40" y="923.10" width="14.00" height="3.80" rx="1.90" fill="#000" fill-opacity="0.85" filter="url(#bl1)" transform="rotate(0 600.40 925.00)"/>
<rect x="609.95" y="921.60" width="14.00" height="3.80" rx="1.90" fill="#000" fill-opacity="0.85" filter="url(#bl1)" transform="rotate(0 616.95 923.50)"/>
<text x="633.8" y="775" font-size="11.5" fill="#000" text-anchor="start" style="" >PHGDH</text>
<text x="633.8" y="812.6" font-size="11.5" fill="#000" text-anchor="start" style="" >PSAT1</text>
<text x="633.8" y="852.8" font-size="11.5" fill="#000" text-anchor="start" style="" >PSPH</text>
<text x="633.8" y="892.6" font-size="11.5" fill="#000" text-anchor="start" style="" >ASNS</text>
<text x="633.8" y="927.2" font-size="11.5" fill="#000" text-anchor="start" style="" >ERK2</text>
<text x="358.4" y="773.3" font-size="7.8" fill="#000" text-anchor="start" style="" >55 kDa</text>
<text x="358.4" y="803" font-size="7.8" fill="#000" text-anchor="start" style="" >40 kDa</text>
<text x="358.4" y="853.8" font-size="7.8" fill="#000" text-anchor="start" style="" >25 kDa</text>
<text x="358.4" y="877.3" font-size="7.8" fill="#000" text-anchor="start" style="" >70 kDa</text>
<text x="358.4" y="900.6" font-size="7.8" fill="#000" text-anchor="start" style="" >55 kDa</text>
<text x="358.4" y="939.2" font-size="7.8" fill="#000" text-anchor="start" style="" >35k Da</text>
<line x1="385.4" y1="771.6" x2="389.5" y2="771.6" stroke="#222" stroke-width="1"/>
<line x1="385.4" y1="801.2" x2="389.5" y2="801.2" stroke="#222" stroke-width="1"/>
<line x1="385.4" y1="851.5" x2="389.5" y2="851.5" stroke="#222" stroke-width="1"/>
<line x1="385.4" y1="874.5" x2="389.5" y2="874.5" stroke="#222" stroke-width="1"/>
<path d="M385.4,900.2 H389.5" stroke="#222" stroke-width="1"/>
<path d="M385.4,937 H389.5" stroke="#222" stroke-width="1"/>
</svg>
</body></html>
